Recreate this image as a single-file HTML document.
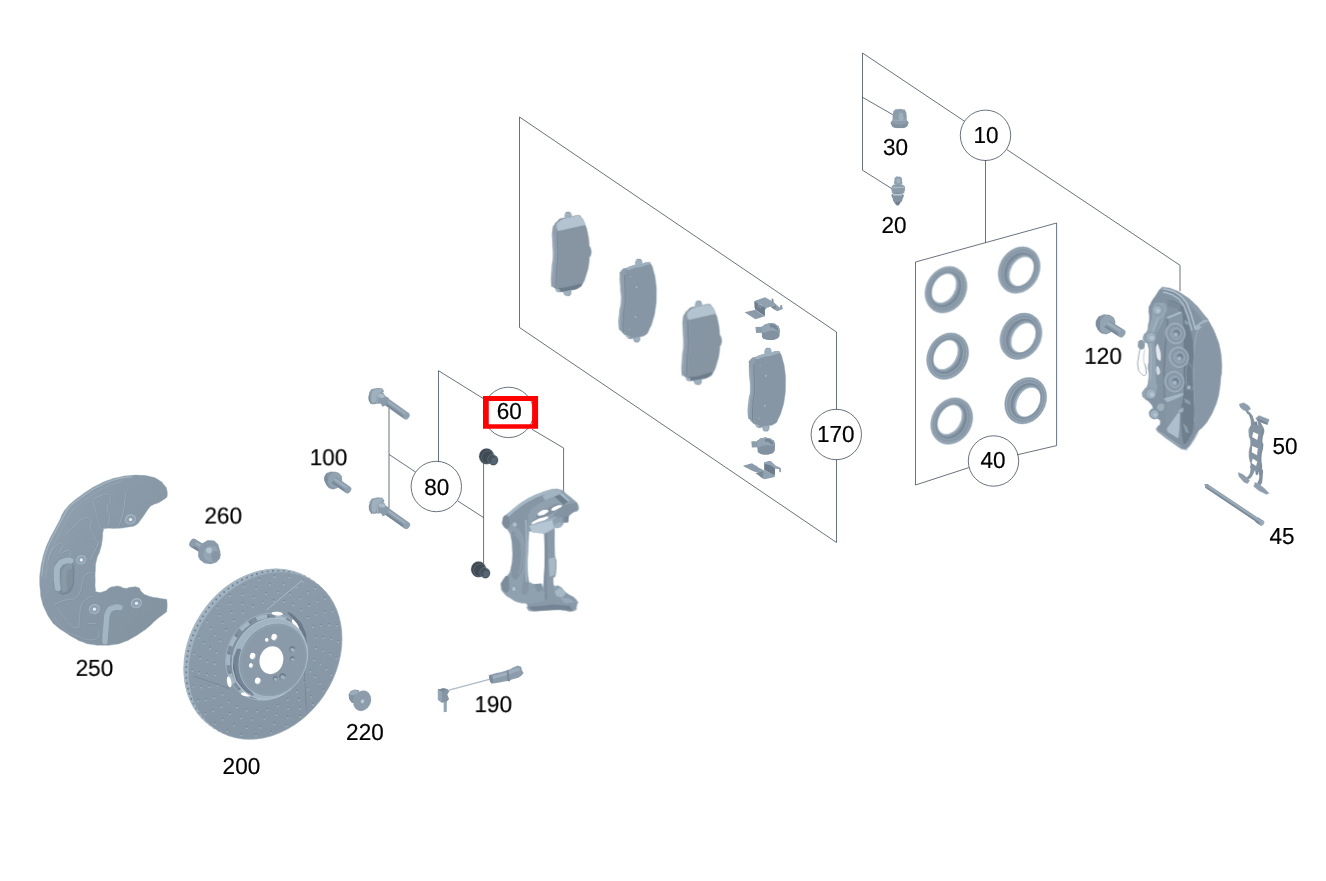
<!DOCTYPE html>
<html lang="en">
<head>
<meta charset="utf-8">
<title>Brake parts diagram</title>
<style>
html,body{margin:0;padding:0;background:#fff;}
body{width:1326px;height:881px;overflow:hidden;font-family:"Liberation Sans",Arial,sans-serif;}
svg{display:block;position:absolute;left:0;top:0;will-change:transform;opacity:0.999;}
.ln line,.ln path,.ln circle{fill:none;stroke:#2e3b4e;stroke-width:0.72;}
.lb text{font-family:"Liberation Sans",Arial,sans-serif;font-size:23.1px;fill:#000;stroke:#000;stroke-width:0.2px;text-anchor:middle;text-rendering:geometricPrecision;}
</style>
</head>
<body>
<svg width="1326" height="881" viewBox="0 0 1326 881">
<defs>
<filter id="soft" x="0" y="0" width="1326" height="881" filterUnits="userSpaceOnUse" color-interpolation-filters="sRGB">
<feGaussianBlur stdDeviation="0.3"/>
<feColorMatrix type="matrix" values="1 0 0 0 0  0 1.0096 0 0 -0.0096  0 0 1.0517 0 -0.0517  0 0 0 1 0"/>
</filter>
<linearGradient id="shg" x1="0" y1="0" x2="1" y2="1">
<stop offset="0" stop-color="#94a6b7"/><stop offset="0.35" stop-color="#8a9bac"/><stop offset="1" stop-color="#8393a4"/></linearGradient>
<linearGradient id="dface" x1="0" y1="0" x2="1" y2="1">
<stop offset="0" stop-color="#8d9eaf"/><stop offset="1" stop-color="#8696a7"/></linearGradient>

</defs>
<g class="ln">
<path d="M862.5 170.2 L862.5 53 L964.6 121.3"/>
<line x1="862.5" y1="97.3" x2="893" y2="114.8"/>
<line x1="862.5" y1="170.2" x2="892" y2="188.8"/>
<circle cx="985.5" cy="135.3" r="25.2"/>
<line x1="985.5" y1="160" x2="985.5" y2="242.5"/>
<path d="M1006.8 149.5 L1180 265.3 L1180 291"/>
<path d="M968.9 467.6 L915.5 485 L915.5 262 L1056.6 223 L1056.6 445.6 L1017.3 454.8"/>
<circle cx="993.5" cy="461" r="25.2"/>
<path d="M836.5 409.5 L836.5 332 L519.5 117 L519.5 327.5 L836.5 542.5 L836.5 459.5"/>
<circle cx="836.3" cy="434.5" r="25.2"/>
<path d="M438.5 461.5 L438.5 370.7 L483.5 398.7"/>
<circle cx="508.5" cy="412.4" r="25.2"/>
<path d="M532 429.3 L563.6 448 L563.6 492"/>
<circle cx="436.3" cy="486.5" r="25.2"/>
<line x1="389" y1="408" x2="389" y2="508.7"/>
<line x1="389" y1="454.4" x2="415.5" y2="472"/>
<line x1="457.7" y1="500.9" x2="483.6" y2="517.6"/>
<line x1="483.6" y1="462" x2="483.6" y2="563.5"/>
</g>
<g class="parts" filter="url(#soft)">
<!-- 10_shield -->
<g transform="translate(20 460) scale(0.22701)" ><path d="M528.6 67.4C558 68.7 545.2 65.8 572.6 72.7C600.1 79.6 590.3 75.6 611 88.1C631.7 100.6 622.7 95.4 634.8 110.1C646.8 124.8 642.8 114.5 647.1 132.2C651.4 149.8 647.5 163 647.5 163C647.5 163 637.3 173.3 616.3 185C595.3 196.8 600.4 189.4 584.5 198.2C568.7 207 580.1 198.2 568.7 211.4C557.2 224.7 562.7 220.2 550.2 237.9C537.7 255.5 544.6 248.1 531.2 264.3C517.9 280.5 527.7 276 510.1 286.3C492.5 296.6 504.5 290.3 478.4 295.1C452.2 300 465.6 298.5 431.7 300.9C397.8 303.2 398.4 298.2 376.6 302.2C354.9 306.1 371.2 296 366.5 312.8C361.8 329.5 366.9 324.5 362.5 352.4C358.1 380.3 361.7 367.1 353.3 396.5C344.9 425.8 344.5 411.1 337.4 440.5C330.4 469.9 334.2 455.2 332.1 484.6C330.1 513.9 331.1 500.7 331.3 528.6C331.4 556.5 329.3 550.6 332.6 568.2C335.8 585.9 327.9 578.1 340.9 581.5C354 584.8 354.3 584.2 371.8 578.4C389.3 572.5 379.3 570.7 393.4 563.8C407.5 556.9 400 560.3 414.1 557.7C428.2 555 419.5 553.6 435.7 555.9C451.8 558.3 444.8 563.3 462.5 564.7C480.3 566.2 469.6 561.2 489 560.3C508.3 559.4 504.8 555 520.7 562.1C536.5 569.1 522.3 569.6 536.5 581.5C550.8 593.4 538.6 588.8 563.4 597.8C588.2 606.7 583.5 603 611 608.3C638.4 613.6 645.8 613.6 645.8 613.6C645.8 613.6 648.4 620.1 648.4 638.7C648.4 657.4 645.8 669.6 645.8 669.6C645.8 669.6 623.9 684.2 599.1 704.8C574.3 725.4 592.2 713.6 571.3 731.2C550.5 748.9 562.2 740 536.5 757.7C510.8 775.3 520.8 769.4 494.2 784.1C467.7 798.8 483.4 792 456.8 801.7C430.2 811.4 444.9 808.5 414.5 813.2C384.1 817.9 397.5 815.8 365.6 815.8C333.8 815.8 348.7 817.9 318.9 813.2C289.1 808.5 302.8 811.4 276.2 801.7C249.6 792 265.8 798.8 239.2 784.1C212.6 769.4 223 775.3 196.5 757.7C169.9 740 179.7 748.9 159.5 731.2C139.2 713.6 151.7 728.3 135.7 704.8C119.7 681.3 124.8 690.1 111.4 660.8C98.1 631.4 102.9 646.1 95.6 616.7C88.2 587.3 92.4 602 89.4 572.6C86.5 543.3 86.5 558 86.8 528.6C87.1 499.2 86.5 513.9 90.3 484.6C94.1 455.2 91.5 469.9 98.2 440.5C105 411.1 100.4 425.8 110.6 396.5C120.7 367.1 115 381.8 128.6 352.4C142.3 323 136.1 337.7 151.5 308.4C166.9 279 163.1 287.8 174.9 264.3C186.6 240.8 176.6 255.5 186.8 237.9C196.9 220.2 190.4 229.1 205.3 211.4C220.1 193.8 211.1 202.6 231.3 185C251.4 167.4 241.7 176.2 265.6 158.6C289.6 141 277.7 148.3 303.1 132.2C328.5 116 312.2 124.8 341.8 110.1C371.5 95.4 359.2 99.8 392 88.1C424.9 76.4 409.7 81.3 440.5 74.9C471.3 68.4 455.2 71.2 484.6 68.7C513.9 66.2 499.2 66.1 528.6 67.4Z" fill="url(#shg)" stroke="#9aacbc" stroke-width="2"/><path d="M96.3 511.6C96.3 511.6 97.5 482.2 104.2 445.5C111 408.8 106.4 430.8 116.6 401.5C126.7 372.1 121 386.8 134.6 357.4C148.3 328 142.1 342.7 157.5 313.4C172.9 284 163 301.6 180.9 269.3C198.8 237 192.5 242.9 211.3 216.4C230.1 190 217.1 207.6 237.3 190C257.4 172.4 247.7 181.2 271.6 163.6C295.6 146 283.7 153.3 309.1 137.2C334.5 121 318.2 129.8 347.8 115.1C377.5 100.4 365.2 104.8 398 93.1C430.9 81.4 415.7 86.1 446.5 79.9C477.3 73.7 490.6 74.6 490.6 74.6" fill="none" stroke="#a9bccc" stroke-width="5" stroke-linecap="round" opacity="0.8"/><path d="M112.3 522.6C112.3 522.6 113.5 493.2 120.2 456.5C127 419.8 122.4 441.8 132.6 412.5C142.7 383.1 137 397.8 150.6 368.4C164.3 339 158.1 353.7 173.5 324.4C188.9 295 179 312.6 196.9 280.3C214.8 248 208.5 253.9 227.3 227.4C246.1 201 233.1 218.6 253.3 201C273.4 183.4 263.7 192.2 287.6 174.6C311.6 157 299.7 164.3 325.1 148.2C350.5 132 334.2 140.8 363.8 126.1C393.5 111.4 384.1 114.4 414 104.1C444 93.8 453.7 95.3 453.7 95.3" fill="none" stroke="#a3b5c5" stroke-width="2" opacity="0.8"/><rect x="150" y="432" width="88" height="160" rx="42" ry="44" fill="#8191a2" stroke="#788899" transform="rotate(4 194 512)"/><path d="M166 565C166 565 160 534.3 162 500C164 465.7 161 480 172 462C183 444 178.3 452 195 446C211.7 440 222 444 222 444" fill="none" stroke="#a9bccc" stroke-width="26" stroke-linecap="round" opacity="0.9"/><path d="M196 570C196 570 191.3 540.7 194 510C196.7 479.3 194.7 491.3 204 478C213.3 464.7 222 470 222 470" fill="none" stroke="#8a9aab" stroke-width="22" stroke-linecap="round"/><path d="M232 470C232 470 237.3 490 236 520C234.7 550 238.3 538.3 228 560C217.7 581.7 221 575.7 205 585C189 594.3 180 588 180 588" fill="none" stroke="#74859a" stroke-width="6" stroke-linecap="round" opacity="0.8"/><ellipse cx="487" cy="262" rx="22" ry="19.8" fill="#92a3b4" transform="rotate(-20 487 262)" stroke="#aabccc" stroke-width="5"/><ellipse cx="489" cy="266" rx="19.8" ry="17.6" fill="none" transform="rotate(-20 489 266)" stroke="#7b8b9d" stroke-width="2" opacity="0.6"/><ellipse cx="487" cy="262" rx="7" ry="7" fill="#e8eef3"/><ellipse cx="270" cy="440" rx="20" ry="18" fill="#92a3b4" transform="rotate(-20 270 440)" stroke="#aabccc" stroke-width="5"/><ellipse cx="272" cy="444" rx="18" ry="16" fill="none" transform="rotate(-20 272 444)" stroke="#7b8b9d" stroke-width="2" opacity="0.6"/><ellipse cx="270" cy="440" rx="7" ry="7" fill="#e8eef3"/><ellipse cx="328" cy="657" rx="22" ry="19.8" fill="#92a3b4" transform="rotate(-20 328 657)" stroke="#aabccc" stroke-width="5"/><ellipse cx="330" cy="661" rx="19.8" ry="17.6" fill="none" transform="rotate(-20 330 661)" stroke="#7b8b9d" stroke-width="2" opacity="0.6"/><ellipse cx="328" cy="657" rx="7" ry="7" fill="#e8eef3"/><ellipse cx="513" cy="631" rx="22" ry="19.8" fill="#92a3b4" transform="rotate(-20 513 631)" stroke="#aabccc" stroke-width="5"/><ellipse cx="515" cy="635" rx="19.8" ry="17.6" fill="none" transform="rotate(-20 515 635)" stroke="#7b8b9d" stroke-width="2" opacity="0.6"/><ellipse cx="513" cy="631" rx="7" ry="7" fill="#e8eef3"/><path d="M440 650C440 650 427.3 644.7 410 652C392.7 659.3 398 649.3 388 672C378 694.7 384.7 677.3 380 720C375.3 762.7 374 800 374 800" fill="none" stroke="#a6b9c9" stroke-width="24" stroke-linecap="round" opacity="0.9"/><path d="M452 668C452 668 438.7 666 424 674C409.3 682 415.3 673.3 408 692C400.7 710.7 406 692.3 402 730C398 767.7 396 805 396 805" fill="none" stroke="#8595a6" stroke-width="14" stroke-linecap="butt" opacity="0.7"/><path d="M325 175C325 175 330 167.7 350 160C370 152.3 368.3 147 385 152C401.7 157 400 154 400 175C400 196 386.7 188.3 385 215C383.3 241.7 395 228.3 395 255C395 281.7 385 295 385 295" fill="none" stroke="#a3b6c7" stroke-width="3" opacity="0.9"/><path d="M328 178C328 178 333 170.7 353 163C373 155.3 371.3 150 388 155C404.7 160 403 157 403 178C403 199 389.7 191.3 388 218C386.3 244.7 398 231.3 398 258C398 284.7 388 298 388 298" fill="none" stroke="#76879a" stroke-width="2.5" opacity="0.6"/><path d="M325 180C325 180 326.7 196.7 335 230C343.3 263.3 340 253.3 350 280C360 306.7 365 310 365 310" fill="none" stroke="#a3b6c7" stroke-width="3" opacity="0.9"/><path d="M328 183C328 183 329.7 199.7 338 233C346.3 266.3 343 256.3 353 283C363 309.7 368 313 368 313" fill="none" stroke="#76879a" stroke-width="2.5" opacity="0.6"/><path d="M465 140C465 140 466.7 158.3 460 200C453.3 241.7 455 232.3 445 265C435 297.7 430 298 430 298" fill="none" stroke="#a3b6c7" stroke-width="3" opacity="0.9"/><path d="M468 143C468 143 469.7 161.3 463 203C456.3 244.7 458 235.3 448 268C438 300.7 433 301 433 301" fill="none" stroke="#76879a" stroke-width="2.5" opacity="0.6"/><path d="M205 330C205 330 211.7 315 240 290C268.3 265 265 261.7 290 255C315 248.3 308.3 255 315 270C321.7 285 305 276.7 310 300C315 323.3 318.3 313.3 330 340C341.7 366.7 345 380 345 380" fill="none" stroke="#a3b6c7" stroke-width="3" opacity="0.9"/><path d="M208 333C208 333 214.7 318 243 293C271.3 268 268 264.7 293 258C318 251.3 311.3 258 318 273C324.7 288 308 279.7 313 303C318 326.3 321.3 316.3 333 343C344.7 369.7 348 383 348 383" fill="none" stroke="#76879a" stroke-width="2.5" opacity="0.6"/><path d="M125 440C125 440 128.3 406.7 150 385C171.7 363.3 181.7 366.7 190 375C198.3 383.3 166.7 401.7 175 410C183.3 418.3 200 395 215 400C230 405 220 425 220 425" fill="none" stroke="#a3b6c7" stroke-width="3" opacity="0.9"/><path d="M128 443C128 443 131.3 409.7 153 388C174.7 366.3 184.7 369.7 193 378C201.3 386.3 169.7 404.7 178 413C186.3 421.3 203 398 218 403C233 408 223 428 223 428" fill="none" stroke="#76879a" stroke-width="2.5" opacity="0.6"/><path d="M150 640C150 640 160 630 190 620C220 610 215 623.3 240 610C265 596.7 253.3 603.3 265 580C276.7 556.7 266.7 565 275 540C283.3 515 275 518.3 290 505C305 491.7 320 500 320 500" fill="none" stroke="#a3b6c7" stroke-width="3" opacity="0.9"/><path d="M153 643C153 643 163 633 193 623C223 613 218 626.3 243 613C268 599.7 256.3 606.3 268 583C279.7 559.7 269.7 568 278 543C286.3 518 278 521.3 293 508C308 494.7 323 503 323 503" fill="none" stroke="#76879a" stroke-width="2.5" opacity="0.6"/><path d="M170 650C170 650 173.3 670 200 700C226.7 730 229.3 740 250 740C270.7 740 256 730 262 700C268 670 260.3 676.7 268 650C275.7 623.3 267.7 636.7 285 620C302.3 603.3 320 600 320 600" fill="none" stroke="#a3b6c7" stroke-width="3" opacity="0.9"/><path d="M173 653C173 653 176.3 673 203 703C229.7 733 232.3 743 253 743C273.7 743 259 733 265 703C271 673 263.3 679.7 271 653C278.7 626.3 270.7 639.7 288 623C305.3 606.3 323 603 323 603" fill="none" stroke="#76879a" stroke-width="2.5" opacity="0.6"/><path d="M150 680C150 680 156.7 708.3 190 740C223.3 771.7 203.3 758.3 250 775C296.7 791.7 298.3 798.3 330 790C361.7 781.7 345 750 345 750" fill="none" stroke="#a3b6c7" stroke-width="3" opacity="0.9"/><path d="M153 683C153 683 159.7 711.3 193 743C226.3 774.7 206.3 761.3 253 778C299.7 794.7 301.3 801.3 333 793C364.7 784.7 348 753 348 753" fill="none" stroke="#76879a" stroke-width="2.5" opacity="0.6"/><path d="M312 440C312 440 317.3 427.3 330 400C342.7 372.7 350 358 350 358" fill="none" stroke="#a3b6c7" stroke-width="3" opacity="0.9"/><path d="M315 443C315 443 320.3 430.3 333 403C345.7 375.7 353 361 353 361" fill="none" stroke="#76879a" stroke-width="2.5" opacity="0.6"/><path d="M300 720L335 722" fill="none" stroke="#a3b6c7" stroke-width="3" opacity="0.9"/><path d="M303 723L338 725" fill="none" stroke="#76879a" stroke-width="2.5" opacity="0.6"/></g>
<!-- 20_disc -->
<g transform="translate(165 555) scale(0.21566)" ><ellipse cx="443.2" cy="452.4" rx="329.1" ry="411.5" fill="#a1b3c4" transform="rotate(33.6 443.2 452.4)"/><ellipse cx="453.5" cy="459.2" rx="328.1" ry="410.5" fill="none" transform="rotate(33.6 453.5 459.2)" stroke="#5f7084" stroke-width="8" stroke-dasharray="8 17" opacity="0.75"/><ellipse cx="443.2" cy="452.4" rx="328.1" ry="410.5" fill="none" transform="rotate(33.6 443.2 452.4)" stroke="#a9bbcb" stroke-width="5"/><ellipse cx="464.5" cy="466.5" rx="329.1" ry="411.5" fill="url(#dface)" transform="rotate(33.6 464.5 466.5)" stroke="#9cafc0" stroke-width="3"/><g opacity="0.5"><ellipse cx="645.5" cy="583.6" rx="4.2" ry="3.2" fill="#5f7084"/><ellipse cx="646.0" cy="590.6" rx="4.4" ry="4" fill="#b4c9d2"/><ellipse cx="662.9" cy="616.1" rx="4.2" ry="3.2" fill="#5f7084"/><ellipse cx="663.4" cy="623.1" rx="4.4" ry="4" fill="#b4c9d2"/><ellipse cx="677.1" cy="651.9" rx="4.2" ry="3.2" fill="#5f7084"/><ellipse cx="677.6" cy="658.9" rx="4.4" ry="4" fill="#b4c9d2"/><ellipse cx="685.3" cy="688.2" rx="4.2" ry="3.2" fill="#5f7084"/><ellipse cx="685.8" cy="695.2" rx="4.4" ry="4" fill="#b4c9d2"/><ellipse cx="610.3" cy="628.0" rx="4.2" ry="3.2" fill="#5f7084"/><ellipse cx="610.8" cy="635.0" rx="4.4" ry="4" fill="#b4c9d2"/><ellipse cx="620.3" cy="665.3" rx="4.2" ry="3.2" fill="#5f7084"/><ellipse cx="620.8" cy="672.3" rx="4.4" ry="4" fill="#b4c9d2"/><ellipse cx="626.5" cy="705.0" rx="4.2" ry="3.2" fill="#5f7084"/><ellipse cx="627.0" cy="712.0" rx="4.4" ry="4" fill="#b4c9d2"/><ellipse cx="627.2" cy="744.1" rx="4.2" ry="3.2" fill="#5f7084"/><ellipse cx="627.7" cy="751.1" rx="4.4" ry="4" fill="#b4c9d2"/><ellipse cx="568.8" cy="665.2" rx="4.2" ry="3.2" fill="#5f7084"/><ellipse cx="569.3" cy="672.2" rx="4.4" ry="4" fill="#b4c9d2"/><ellipse cx="570.8" cy="705.6" rx="4.2" ry="3.2" fill="#5f7084"/><ellipse cx="571.3" cy="712.6" rx="4.4" ry="4" fill="#b4c9d2"/><ellipse cx="568.9" cy="747.7" rx="4.2" ry="3.2" fill="#5f7084"/><ellipse cx="569.4" cy="754.7" rx="4.4" ry="4" fill="#b4c9d2"/><ellipse cx="561.9" cy="787.7" rx="4.2" ry="3.2" fill="#5f7084"/><ellipse cx="562.4" cy="794.7" rx="4.4" ry="4" fill="#b4c9d2"/><ellipse cx="522.7" cy="693.7" rx="4.2" ry="3.2" fill="#5f7084"/><ellipse cx="523.2" cy="700.7" rx="4.4" ry="4" fill="#b4c9d2"/><ellipse cx="516.7" cy="735.4" rx="4.2" ry="3.2" fill="#5f7084"/><ellipse cx="517.2" cy="742.4" rx="4.4" ry="4" fill="#b4c9d2"/><ellipse cx="506.7" cy="777.9" rx="4.2" ry="3.2" fill="#5f7084"/><ellipse cx="507.2" cy="784.9" rx="4.4" ry="4" fill="#b4c9d2"/><ellipse cx="492.4" cy="817.2" rx="4.2" ry="3.2" fill="#5f7084"/><ellipse cx="492.9" cy="824.2" rx="4.4" ry="4" fill="#b4c9d2"/><ellipse cx="474.0" cy="712.0" rx="4.2" ry="3.2" fill="#5f7084"/><ellipse cx="474.5" cy="719.0" rx="4.4" ry="4" fill="#b4c9d2"/><ellipse cx="460.4" cy="753.2" rx="4.2" ry="3.2" fill="#5f7084"/><ellipse cx="460.9" cy="760.2" rx="4.4" ry="4" fill="#b4c9d2"/><ellipse cx="442.7" cy="794.4" rx="4.2" ry="3.2" fill="#5f7084"/><ellipse cx="443.2" cy="801.4" rx="4.4" ry="4" fill="#b4c9d2"/><ellipse cx="421.6" cy="831.2" rx="4.2" ry="3.2" fill="#5f7084"/><ellipse cx="422.1" cy="838.2" rx="4.4" ry="4" fill="#b4c9d2"/><ellipse cx="425.0" cy="719.5" rx="4.2" ry="3.2" fill="#5f7084"/><ellipse cx="425.5" cy="726.5" rx="4.4" ry="4" fill="#b4c9d2"/><ellipse cx="404.2" cy="758.5" rx="4.2" ry="3.2" fill="#5f7084"/><ellipse cx="404.7" cy="765.5" rx="4.4" ry="4" fill="#b4c9d2"/><ellipse cx="379.6" cy="796.4" rx="4.2" ry="3.2" fill="#5f7084"/><ellipse cx="380.1" cy="803.4" rx="4.4" ry="4" fill="#b4c9d2"/><ellipse cx="352.8" cy="829.1" rx="4.2" ry="3.2" fill="#5f7084"/><ellipse cx="353.3" cy="836.1" rx="4.4" ry="4" fill="#b4c9d2"/><ellipse cx="377.6" cy="715.8" rx="4.2" ry="3.2" fill="#5f7084"/><ellipse cx="378.1" cy="722.8" rx="4.4" ry="4" fill="#b4c9d2"/><ellipse cx="350.6" cy="750.8" rx="4.2" ry="3.2" fill="#5f7084"/><ellipse cx="351.1" cy="757.8" rx="4.4" ry="4" fill="#b4c9d2"/><ellipse cx="320.3" cy="783.8" rx="4.2" ry="3.2" fill="#5f7084"/><ellipse cx="320.8" cy="790.8" rx="4.4" ry="4" fill="#b4c9d2"/><ellipse cx="288.8" cy="811.0" rx="4.2" ry="3.2" fill="#5f7084"/><ellipse cx="289.3" cy="818.0" rx="4.4" ry="4" fill="#b4c9d2"/><ellipse cx="334.1" cy="701.1" rx="4.2" ry="3.2" fill="#5f7084"/><ellipse cx="334.6" cy="708.1" rx="4.4" ry="4" fill="#b4c9d2"/><ellipse cx="302.0" cy="730.6" rx="4.2" ry="3.2" fill="#5f7084"/><ellipse cx="302.5" cy="737.6" rx="4.4" ry="4" fill="#b4c9d2"/><ellipse cx="267.2" cy="757.3" rx="4.2" ry="3.2" fill="#5f7084"/><ellipse cx="267.7" cy="764.3" rx="4.4" ry="4" fill="#b4c9d2"/><ellipse cx="232.5" cy="777.8" rx="4.2" ry="3.2" fill="#5f7084"/><ellipse cx="233.0" cy="784.8" rx="4.4" ry="4" fill="#b4c9d2"/><ellipse cx="296.3" cy="676.0" rx="4.2" ry="3.2" fill="#5f7084"/><ellipse cx="296.8" cy="683.0" rx="4.4" ry="4" fill="#b4c9d2"/><ellipse cx="260.5" cy="698.6" rx="4.2" ry="3.2" fill="#5f7084"/><ellipse cx="261.0" cy="705.6" rx="4.4" ry="4" fill="#b4c9d2"/><ellipse cx="222.8" cy="717.9" rx="4.2" ry="3.2" fill="#5f7084"/><ellipse cx="223.3" cy="724.9" rx="4.4" ry="4" fill="#b4c9d2"/><ellipse cx="186.3" cy="730.8" rx="4.2" ry="3.2" fill="#5f7084"/><ellipse cx="186.8" cy="737.8" rx="4.4" ry="4" fill="#b4c9d2"/><ellipse cx="265.8" cy="641.6" rx="4.2" ry="3.2" fill="#5f7084"/><ellipse cx="266.3" cy="648.6" rx="4.4" ry="4" fill="#b4c9d2"/><ellipse cx="227.9" cy="656.5" rx="4.2" ry="3.2" fill="#5f7084"/><ellipse cx="228.4" cy="663.5" rx="4.4" ry="4" fill="#b4c9d2"/><ellipse cx="188.9" cy="667.4" rx="4.2" ry="3.2" fill="#5f7084"/><ellipse cx="189.4" cy="674.4" rx="4.4" ry="4" fill="#b4c9d2"/><ellipse cx="152.3" cy="672.1" rx="4.2" ry="3.2" fill="#5f7084"/><ellipse cx="152.8" cy="679.1" rx="4.4" ry="4" fill="#b4c9d2"/><ellipse cx="244.0" cy="599.5" rx="4.2" ry="3.2" fill="#5f7084"/><ellipse cx="244.5" cy="606.5" rx="4.4" ry="4" fill="#b4c9d2"/><ellipse cx="205.7" cy="605.9" rx="4.2" ry="3.2" fill="#5f7084"/><ellipse cx="206.2" cy="612.9" rx="4.4" ry="4" fill="#b4c9d2"/><ellipse cx="167.1" cy="608.0" rx="4.2" ry="3.2" fill="#5f7084"/><ellipse cx="167.6" cy="615.0" rx="4.4" ry="4" fill="#b4c9d2"/><ellipse cx="131.9" cy="604.3" rx="4.2" ry="3.2" fill="#5f7084"/><ellipse cx="132.4" cy="611.3" rx="4.4" ry="4" fill="#b4c9d2"/><ellipse cx="231.8" cy="551.3" rx="4.2" ry="3.2" fill="#5f7084"/><ellipse cx="232.3" cy="558.3" rx="4.4" ry="4" fill="#b4c9d2"/><ellipse cx="194.8" cy="549.0" rx="4.2" ry="3.2" fill="#5f7084"/><ellipse cx="195.3" cy="556.0" rx="4.4" ry="4" fill="#b4c9d2"/><ellipse cx="158.2" cy="542.3" rx="4.2" ry="3.2" fill="#5f7084"/><ellipse cx="158.7" cy="549.3" rx="4.4" ry="4" fill="#b4c9d2"/><ellipse cx="126.1" cy="530.4" rx="4.2" ry="3.2" fill="#5f7084"/><ellipse cx="126.6" cy="537.4" rx="4.4" ry="4" fill="#b4c9d2"/><ellipse cx="229.8" cy="499.4" rx="4.2" ry="3.2" fill="#5f7084"/><ellipse cx="230.3" cy="506.4" rx="4.4" ry="4" fill="#b4c9d2"/><ellipse cx="195.7" cy="488.5" rx="4.2" ry="3.2" fill="#5f7084"/><ellipse cx="196.2" cy="495.5" rx="4.4" ry="4" fill="#b4c9d2"/><ellipse cx="162.8" cy="473.1" rx="4.2" ry="3.2" fill="#5f7084"/><ellipse cx="163.3" cy="480.1" rx="4.4" ry="4" fill="#b4c9d2"/><ellipse cx="135.1" cy="453.5" rx="4.2" ry="3.2" fill="#5f7084"/><ellipse cx="135.6" cy="460.5" rx="4.4" ry="4" fill="#b4c9d2"/><ellipse cx="238.1" cy="445.9" rx="4.2" ry="3.2" fill="#5f7084"/><ellipse cx="238.6" cy="452.9" rx="4.4" ry="4" fill="#b4c9d2"/><ellipse cx="208.3" cy="426.8" rx="4.2" ry="3.2" fill="#5f7084"/><ellipse cx="208.8" cy="433.8" rx="4.4" ry="4" fill="#b4c9d2"/><ellipse cx="180.5" cy="403.5" rx="4.2" ry="3.2" fill="#5f7084"/><ellipse cx="181.0" cy="410.5" rx="4.4" ry="4" fill="#b4c9d2"/><ellipse cx="158.4" cy="377.1" rx="4.2" ry="3.2" fill="#5f7084"/><ellipse cx="158.9" cy="384.1" rx="4.4" ry="4" fill="#b4c9d2"/><ellipse cx="256.2" cy="393.1" rx="4.2" ry="3.2" fill="#5f7084"/><ellipse cx="256.7" cy="400.1" rx="4.4" ry="4" fill="#b4c9d2"/><ellipse cx="232.1" cy="366.7" rx="4.2" ry="3.2" fill="#5f7084"/><ellipse cx="232.6" cy="373.7" rx="4.4" ry="4" fill="#b4c9d2"/><ellipse cx="210.7" cy="336.6" rx="4.2" ry="3.2" fill="#5f7084"/><ellipse cx="211.2" cy="343.6" rx="4.4" ry="4" fill="#b4c9d2"/><ellipse cx="195.1" cy="304.5" rx="4.2" ry="3.2" fill="#5f7084"/><ellipse cx="195.6" cy="311.5" rx="4.4" ry="4" fill="#b4c9d2"/><ellipse cx="283.5" cy="343.4" rx="4.2" ry="3.2" fill="#5f7084"/><ellipse cx="284.0" cy="350.4" rx="4.4" ry="4" fill="#b4c9d2"/><ellipse cx="266.1" cy="310.9" rx="4.2" ry="3.2" fill="#5f7084"/><ellipse cx="266.6" cy="317.9" rx="4.4" ry="4" fill="#b4c9d2"/><ellipse cx="251.9" cy="275.1" rx="4.2" ry="3.2" fill="#5f7084"/><ellipse cx="252.4" cy="282.1" rx="4.4" ry="4" fill="#b4c9d2"/><ellipse cx="243.7" cy="238.8" rx="4.2" ry="3.2" fill="#5f7084"/><ellipse cx="244.2" cy="245.8" rx="4.4" ry="4" fill="#b4c9d2"/><ellipse cx="318.7" cy="299.0" rx="4.2" ry="3.2" fill="#5f7084"/><ellipse cx="319.2" cy="306.0" rx="4.4" ry="4" fill="#b4c9d2"/><ellipse cx="308.7" cy="261.7" rx="4.2" ry="3.2" fill="#5f7084"/><ellipse cx="309.2" cy="268.7" rx="4.4" ry="4" fill="#b4c9d2"/><ellipse cx="302.5" cy="222.0" rx="4.2" ry="3.2" fill="#5f7084"/><ellipse cx="303.0" cy="229.0" rx="4.4" ry="4" fill="#b4c9d2"/><ellipse cx="301.8" cy="182.9" rx="4.2" ry="3.2" fill="#5f7084"/><ellipse cx="302.3" cy="189.9" rx="4.4" ry="4" fill="#b4c9d2"/><ellipse cx="360.2" cy="261.8" rx="4.2" ry="3.2" fill="#5f7084"/><ellipse cx="360.7" cy="268.8" rx="4.4" ry="4" fill="#b4c9d2"/><ellipse cx="358.2" cy="221.4" rx="4.2" ry="3.2" fill="#5f7084"/><ellipse cx="358.7" cy="228.4" rx="4.4" ry="4" fill="#b4c9d2"/><ellipse cx="360.1" cy="179.3" rx="4.2" ry="3.2" fill="#5f7084"/><ellipse cx="360.6" cy="186.3" rx="4.4" ry="4" fill="#b4c9d2"/><ellipse cx="367.1" cy="139.3" rx="4.2" ry="3.2" fill="#5f7084"/><ellipse cx="367.6" cy="146.3" rx="4.4" ry="4" fill="#b4c9d2"/><ellipse cx="406.3" cy="233.3" rx="4.2" ry="3.2" fill="#5f7084"/><ellipse cx="406.8" cy="240.3" rx="4.4" ry="4" fill="#b4c9d2"/><ellipse cx="412.3" cy="191.6" rx="4.2" ry="3.2" fill="#5f7084"/><ellipse cx="412.8" cy="198.6" rx="4.4" ry="4" fill="#b4c9d2"/><ellipse cx="422.3" cy="149.1" rx="4.2" ry="3.2" fill="#5f7084"/><ellipse cx="422.8" cy="156.1" rx="4.4" ry="4" fill="#b4c9d2"/><ellipse cx="436.6" cy="109.8" rx="4.2" ry="3.2" fill="#5f7084"/><ellipse cx="437.1" cy="116.8" rx="4.4" ry="4" fill="#b4c9d2"/><ellipse cx="455.0" cy="215.0" rx="4.2" ry="3.2" fill="#5f7084"/><ellipse cx="455.5" cy="222.0" rx="4.4" ry="4" fill="#b4c9d2"/><ellipse cx="468.6" cy="173.8" rx="4.2" ry="3.2" fill="#5f7084"/><ellipse cx="469.1" cy="180.8" rx="4.4" ry="4" fill="#b4c9d2"/><ellipse cx="486.3" cy="132.6" rx="4.2" ry="3.2" fill="#5f7084"/><ellipse cx="486.8" cy="139.6" rx="4.4" ry="4" fill="#b4c9d2"/><ellipse cx="507.4" cy="95.8" rx="4.2" ry="3.2" fill="#5f7084"/><ellipse cx="507.9" cy="102.8" rx="4.4" ry="4" fill="#b4c9d2"/><ellipse cx="504.0" cy="207.5" rx="4.2" ry="3.2" fill="#5f7084"/><ellipse cx="504.5" cy="214.5" rx="4.4" ry="4" fill="#b4c9d2"/><ellipse cx="524.8" cy="168.5" rx="4.2" ry="3.2" fill="#5f7084"/><ellipse cx="525.3" cy="175.5" rx="4.4" ry="4" fill="#b4c9d2"/><ellipse cx="549.4" cy="130.6" rx="4.2" ry="3.2" fill="#5f7084"/><ellipse cx="549.9" cy="137.6" rx="4.4" ry="4" fill="#b4c9d2"/><ellipse cx="576.2" cy="97.9" rx="4.2" ry="3.2" fill="#5f7084"/><ellipse cx="576.7" cy="104.9" rx="4.4" ry="4" fill="#b4c9d2"/><ellipse cx="551.4" cy="211.2" rx="4.2" ry="3.2" fill="#5f7084"/><ellipse cx="551.9" cy="218.2" rx="4.4" ry="4" fill="#b4c9d2"/><ellipse cx="578.4" cy="176.2" rx="4.2" ry="3.2" fill="#5f7084"/><ellipse cx="578.9" cy="183.2" rx="4.4" ry="4" fill="#b4c9d2"/><ellipse cx="608.7" cy="143.2" rx="4.2" ry="3.2" fill="#5f7084"/><ellipse cx="609.2" cy="150.2" rx="4.4" ry="4" fill="#b4c9d2"/><ellipse cx="640.2" cy="116.0" rx="4.2" ry="3.2" fill="#5f7084"/><ellipse cx="640.7" cy="123.0" rx="4.4" ry="4" fill="#b4c9d2"/><ellipse cx="594.9" cy="225.9" rx="4.2" ry="3.2" fill="#5f7084"/><ellipse cx="595.4" cy="232.9" rx="4.4" ry="4" fill="#b4c9d2"/><ellipse cx="627.0" cy="196.4" rx="4.2" ry="3.2" fill="#5f7084"/><ellipse cx="627.5" cy="203.4" rx="4.4" ry="4" fill="#b4c9d2"/><ellipse cx="661.8" cy="169.7" rx="4.2" ry="3.2" fill="#5f7084"/><ellipse cx="662.3" cy="176.7" rx="4.4" ry="4" fill="#b4c9d2"/><ellipse cx="696.5" cy="149.2" rx="4.2" ry="3.2" fill="#5f7084"/><ellipse cx="697.0" cy="156.2" rx="4.4" ry="4" fill="#b4c9d2"/><ellipse cx="632.7" cy="251.0" rx="4.2" ry="3.2" fill="#5f7084"/><ellipse cx="633.2" cy="258.0" rx="4.4" ry="4" fill="#b4c9d2"/><ellipse cx="668.5" cy="228.4" rx="4.2" ry="3.2" fill="#5f7084"/><ellipse cx="669.0" cy="235.4" rx="4.4" ry="4" fill="#b4c9d2"/><ellipse cx="706.2" cy="209.1" rx="4.2" ry="3.2" fill="#5f7084"/><ellipse cx="706.7" cy="216.1" rx="4.4" ry="4" fill="#b4c9d2"/><ellipse cx="742.7" cy="196.2" rx="4.2" ry="3.2" fill="#5f7084"/><ellipse cx="743.2" cy="203.2" rx="4.4" ry="4" fill="#b4c9d2"/><ellipse cx="663.2" cy="285.4" rx="4.2" ry="3.2" fill="#5f7084"/><ellipse cx="663.7" cy="292.4" rx="4.4" ry="4" fill="#b4c9d2"/><ellipse cx="701.1" cy="270.5" rx="4.2" ry="3.2" fill="#5f7084"/><ellipse cx="701.6" cy="277.5" rx="4.4" ry="4" fill="#b4c9d2"/><ellipse cx="740.1" cy="259.6" rx="4.2" ry="3.2" fill="#5f7084"/><ellipse cx="740.6" cy="266.6" rx="4.4" ry="4" fill="#b4c9d2"/><ellipse cx="776.7" cy="254.9" rx="4.2" ry="3.2" fill="#5f7084"/><ellipse cx="777.2" cy="261.9" rx="4.4" ry="4" fill="#b4c9d2"/><ellipse cx="685.0" cy="327.5" rx="4.2" ry="3.2" fill="#5f7084"/><ellipse cx="685.5" cy="334.5" rx="4.4" ry="4" fill="#b4c9d2"/><ellipse cx="723.3" cy="321.1" rx="4.2" ry="3.2" fill="#5f7084"/><ellipse cx="723.8" cy="328.1" rx="4.4" ry="4" fill="#b4c9d2"/><ellipse cx="761.9" cy="319.0" rx="4.2" ry="3.2" fill="#5f7084"/><ellipse cx="762.4" cy="326.0" rx="4.4" ry="4" fill="#b4c9d2"/><ellipse cx="797.1" cy="322.7" rx="4.2" ry="3.2" fill="#5f7084"/><ellipse cx="797.6" cy="329.7" rx="4.4" ry="4" fill="#b4c9d2"/><ellipse cx="697.2" cy="375.7" rx="4.2" ry="3.2" fill="#5f7084"/><ellipse cx="697.7" cy="382.7" rx="4.4" ry="4" fill="#b4c9d2"/><ellipse cx="734.2" cy="378.0" rx="4.2" ry="3.2" fill="#5f7084"/><ellipse cx="734.7" cy="385.0" rx="4.4" ry="4" fill="#b4c9d2"/><ellipse cx="770.8" cy="384.7" rx="4.2" ry="3.2" fill="#5f7084"/><ellipse cx="771.3" cy="391.7" rx="4.4" ry="4" fill="#b4c9d2"/><ellipse cx="802.9" cy="396.6" rx="4.2" ry="3.2" fill="#5f7084"/><ellipse cx="803.4" cy="403.6" rx="4.4" ry="4" fill="#b4c9d2"/><ellipse cx="699.2" cy="427.6" rx="4.2" ry="3.2" fill="#5f7084"/><ellipse cx="699.7" cy="434.6" rx="4.4" ry="4" fill="#b4c9d2"/><ellipse cx="733.3" cy="438.5" rx="4.2" ry="3.2" fill="#5f7084"/><ellipse cx="733.8" cy="445.5" rx="4.4" ry="4" fill="#b4c9d2"/><ellipse cx="766.2" cy="453.9" rx="4.2" ry="3.2" fill="#5f7084"/><ellipse cx="766.7" cy="460.9" rx="4.4" ry="4" fill="#b4c9d2"/><ellipse cx="793.9" cy="473.5" rx="4.2" ry="3.2" fill="#5f7084"/><ellipse cx="794.4" cy="480.5" rx="4.4" ry="4" fill="#b4c9d2"/><ellipse cx="690.9" cy="481.1" rx="4.2" ry="3.2" fill="#5f7084"/><ellipse cx="691.4" cy="488.1" rx="4.4" ry="4" fill="#b4c9d2"/><ellipse cx="720.7" cy="500.2" rx="4.2" ry="3.2" fill="#5f7084"/><ellipse cx="721.2" cy="507.2" rx="4.4" ry="4" fill="#b4c9d2"/><ellipse cx="748.5" cy="523.5" rx="4.2" ry="3.2" fill="#5f7084"/><ellipse cx="749.0" cy="530.5" rx="4.4" ry="4" fill="#b4c9d2"/><ellipse cx="770.6" cy="549.9" rx="4.2" ry="3.2" fill="#5f7084"/><ellipse cx="771.1" cy="556.9" rx="4.4" ry="4" fill="#b4c9d2"/><ellipse cx="672.8" cy="533.9" rx="4.2" ry="3.2" fill="#5f7084"/><ellipse cx="673.3" cy="540.9" rx="4.4" ry="4" fill="#b4c9d2"/><ellipse cx="696.9" cy="560.3" rx="4.2" ry="3.2" fill="#5f7084"/><ellipse cx="697.4" cy="567.3" rx="4.4" ry="4" fill="#b4c9d2"/><ellipse cx="718.3" cy="590.4" rx="4.2" ry="3.2" fill="#5f7084"/><ellipse cx="718.8" cy="597.4" rx="4.4" ry="4" fill="#b4c9d2"/><ellipse cx="733.9" cy="622.5" rx="4.2" ry="3.2" fill="#5f7084"/><ellipse cx="734.4" cy="629.5" rx="4.4" ry="4" fill="#b4c9d2"/></g><path d="M470 256 L640 114" stroke="#adbfce" stroke-width="4" fill="none"/><path d="M134 562 L300 620" stroke="#74859a" stroke-width="3.5" fill="none"/><path d="M645 520 L656 722" stroke="#74859a" stroke-width="3.5" fill="none"/></g><g transform="translate(215 600) scale(0.11351)" ><ellipse cx="455" cy="500" rx="350" ry="395" fill="#7f90a3" transform="rotate(30 455 500)"/><ellipse cx="455" cy="500" rx="350" ry="395" fill="none" transform="rotate(30 455 500)" stroke="#a3b5c5" stroke-width="7"/><ellipse cx="452" cy="502" rx="325" ry="372" fill="none" transform="rotate(30 452 502)" stroke="#a9bbcb" stroke-width="36" stroke-dasharray="95 75" opacity="0.9"/><ellipse cx="452" cy="502" rx="322" ry="368" fill="none" transform="rotate(30 452 502)" stroke="#66778b" stroke-width="10" stroke-dasharray="20 150" stroke-dashoffset="-85" opacity="0.8"/><ellipse cx="548" cy="120" rx="50" ry="17" fill="#ffffff" transform="rotate(3 548 120)"/><ellipse cx="708" cy="212" rx="18" ry="48" fill="#ffffff" transform="rotate(-32 708 212)"/><ellipse cx="125" cy="722" rx="19" ry="48" fill="#ffffff" transform="rotate(-12 125 722)"/><ellipse cx="278" cy="832" rx="50" ry="17" fill="#ffffff" transform="rotate(8 278 832)"/><path d="M640 108C650 104.7 672.7 112.7 720 160C767.3 207.3 753.3 186.7 782 250C810.7 313.3 800 293.3 806 350C812 406.7 808.7 426.7 800 420C791.3 413.3 800 390 780 330C760 270 770 293.3 740 240C710 186.7 723.3 214 690 170C656.7 126 630 111.3 640 108Z" fill="#6a7b8f"/><ellipse cx="482" cy="517" rx="318" ry="370" fill="#a2b4c5" transform="rotate(30 482 517)" stroke="#b7c8d6" stroke-width="6"/><path d="M178 470C161.3 513.3 162 500 160 560C158 620 153.7 590 172 650C190.3 710 175.7 685 215 740C254.3 795 248.3 781.7 290 815C331.7 848.3 333.3 848.3 340 840C346.7 831.7 336 833.3 310 790C284 746.7 288 763.3 262 710C236 656.7 244 686.7 232 630C220 573.3 224.7 593.3 226 540C227.3 486.7 241.3 506.7 236 470C230.7 433.3 229.3 430 210 430C190.7 430 194.7 426.7 178 470Z" fill="#75869a"/><path d="M165 560C165 560 160 596.7 180 660C200 723.3 185 696.7 225 750C265 803.3 300 820 300 820" fill="none" stroke="#5f7084" stroke-width="8"/><ellipse cx="512" cy="528" rx="290" ry="336" fill="#8a9bad" transform="rotate(30 512 528)" stroke="#b0c2d0" stroke-width="6"/><ellipse cx="516" cy="530" rx="276" ry="322" fill="none" transform="rotate(30 516 530)" stroke="#94a6b7" stroke-width="5"/><ellipse cx="497" cy="530" rx="104" ry="124" fill="#ffffff" transform="rotate(14 497 530)"/><ellipse cx="525" cy="331" rx="26" ry="30" fill="#a6b8c8" transform="rotate(20 525 331)"/><ellipse cx="520" cy="325" rx="22.9" ry="26.4" fill="#ffffff" transform="rotate(20 520 325)"/><ellipse cx="460" cy="356" rx="16" ry="18" fill="#a6b8c8" transform="rotate(20 460 356)"/><ellipse cx="455" cy="350" rx="14.1" ry="15.8" fill="#ffffff" transform="rotate(20 455 350)"/><ellipse cx="335" cy="498" rx="26" ry="30" fill="#a6b8c8" transform="rotate(20 335 498)"/><ellipse cx="330" cy="492" rx="22.9" ry="26.4" fill="#ffffff" transform="rotate(20 330 492)"/><ellipse cx="320" cy="581" rx="18" ry="22" fill="#a6b8c8" transform="rotate(20 320 581)"/><ellipse cx="315" cy="575" rx="15.8" ry="19.4" fill="#ffffff" transform="rotate(20 315 575)"/><ellipse cx="380" cy="716" rx="27" ry="30" fill="#a6b8c8" transform="rotate(20 380 716)"/><ellipse cx="375" cy="710" rx="23.8" ry="26.4" fill="#ffffff" transform="rotate(20 375 710)"/><ellipse cx="680" cy="432" rx="27" ry="27" fill="#6f8094" transform="rotate(20 680 432)"/><ellipse cx="684" cy="441" rx="21.6" ry="16.2" fill="#9fb1c2" transform="rotate(20 684 441)"/><ellipse cx="680" cy="515" rx="21" ry="21" fill="#6f8094" transform="rotate(20 680 515)"/><ellipse cx="684" cy="524" rx="16.8" ry="12.6" fill="#9fb1c2" transform="rotate(20 684 524)"/><ellipse cx="595" cy="672" rx="29" ry="29" fill="#6f8094" transform="rotate(20 595 672)"/><ellipse cx="599" cy="681" rx="23.2" ry="17.4" fill="#9fb1c2" transform="rotate(20 599 681)"/><ellipse cx="530" cy="690" rx="21" ry="23" fill="#6f8094" transform="rotate(20 530 690)"/><ellipse cx="534" cy="699" rx="16.8" ry="13.8" fill="#9fb1c2" transform="rotate(20 534 699)"/></g>
<!-- 30_caliper -->
<g transform="translate(1130 280) scale(0.11351)" ><path d="M270 75C296.7 53.3 266.7 60 310 65C353.3 70 346.7 68.3 400 90C453.3 111.7 416.7 93.3 470 130C523.3 166.7 503.3 146.7 560 200C616.7 253.3 590 226.7 640 290C690 353.3 670 320 710 390C750 460 733.3 430 760 500C786.7 570 775 533.3 790 600C805 666.7 799 633.3 805 700C811 766.7 809.7 746.7 808 800C806.3 853.3 806 808.3 800 860C794 911.7 800 890 790 955C780 1020 786.7 995 770 1055C753.3 1115 763.3 1081.7 740 1135C716.7 1188.3 730 1165 700 1215C670 1265 683.3 1245 650 1285C616.7 1325 630 1295 600 1335C570 1375 590 1358.3 560 1405C530 1451.7 540 1446.7 510 1475C480 1503.3 500 1493.3 470 1490C440 1486.7 460 1490 420 1465C380 1440 396.7 1448.3 350 1415C303.3 1381.7 318.3 1395 280 1365C241.7 1335 248.3 1348.3 235 1325C221.7 1301.7 230 1315 240 1295C250 1275 261.7 1288.3 265 1265C268.3 1241.7 271.7 1240 250 1225C228.3 1210 226.7 1233.3 200 1220C173.3 1206.7 176.7 1210 170 1185C163.3 1160 170 1165 180 1145C190 1125 203.3 1148.3 200 1125C196.7 1101.7 193.3 1101.7 170 1075C146.7 1048.3 150.7 1068.3 130 1045C109.3 1021.7 109.7 1031.7 108 1005C106.3 978.3 111 988.3 125 965C139 941.7 136.7 971.7 150 935C163.3 898.3 161.7 911.7 165 855C168.3 798.3 160 816.7 160 765C160 713.3 165 761.7 165 700C165 638.3 173.3 633.3 160 580C146.7 526.7 138.3 570 125 540C111.7 510 111.7 520 120 490C128.3 460 136.7 480 150 450C163.3 420 153.3 440 160 400C166.7 360 168.3 376.7 170 330C171.7 283.3 161.7 300 165 260C168.3 220 158.3 253.3 180 210C201.7 166.7 200 175 230 130C260 85 243.3 96.7 270 75Z" fill="#8494a6" stroke="#9db0c1" stroke-width="4"/><path d="M275 85C271.7 72.3 268.3 68.3 310 72C351.7 75.7 346.7 75 400 96C453.3 117 416.7 98.7 470 135C523.3 171.3 503.3 151.7 560 205C616.7 258.3 596.7 245 640 295C683.3 345 686.7 336 690 355C693.3 374 680 370.3 650 352C620 333.7 636.7 337.3 600 300C563.3 262.7 583.3 280 540 240C496.7 200 516.7 216.7 470 180C423.3 143.3 450 153.3 400 130C350 106.7 361.7 125 320 110C278.3 95 278.3 97.7 275 85Z" fill="#8d9eb0"/><path d="M600 440L690 355C690 355 705 378.3 730 430C755 481.7 744.3 453.3 765 510C785.7 566.7 779 536.7 792 600C805 663.3 799.3 633.3 804 700C808.7 766.7 808 746.7 806 800C804 853.3 804 808.3 798 860C792 911.7 798 890 788 955C778 1020 784.7 995 768 1055C751.3 1115 761.3 1081.7 738 1135C714.7 1188.3 727.3 1166.7 698 1215C668.7 1263.3 682.7 1245.7 650 1280C617.3 1314.3 625 1311.3 600 1318C575 1324.7 575 1300 575 1300C575 1300 571 1300 566 1200C561 1100 562 1133.3 560 1000C558 866.7 558.7 933.3 560 800C561.3 666.7 563.3 710 564 600C564.7 490 550 523.3 562 470C574 416.7 600 440 600 440Z" fill="#8898aa"/><path d="M598 445C598 445 578.7 481.7 566 600C553.3 718.3 562 666.7 560 800C558 933.3 557.3 850 560 1000C562.7 1150 568 1250 568 1250" fill="none" stroke="#a6b8c8" stroke-width="6"/><path d="M540 432L650 350L692 356L602 442Z" fill="#a6b8c8"/><path d="M610 400L660 370L680 395L640 420Z" fill="#8a9bad"/><path d="M290 92C290 92 310 90.7 350 105C390 119.3 371.7 108.3 410 135C448.3 161.7 433.3 143.3 465 185C496.7 226.7 481.7 205 505 260C528.3 315 516.7 290 535 350C553.3 410 560 440 560 440" fill="none" stroke="#a9bbcb" stroke-width="46" stroke-linecap="butt"/><path d="M290 92C290 92 310 90.7 350 105C390 119.3 371.7 108.3 410 135C448.3 161.7 433.3 143.3 465 185C496.7 226.7 481.7 205 505 260C528.3 315 516.7 290 535 350C553.3 410 560 440 560 440" fill="none" stroke="#77889b" stroke-width="14"/><path d="M304 84C304 84 324 82.7 364 97C404 111.3 385.7 100.3 424 127C462.3 153.7 447.3 135.3 479 177C510.7 218.7 495.7 197 519 252C542.3 307 530.7 282 549 342C567.3 402 574 432 574 432" fill="none" stroke="#b9cad7" stroke-width="5"/><path d="M330 175C330 175 386.7 173.3 440 215C493.3 256.7 460 225 490 300C520 375 507.3 340 530 440C552.7 540 549.3 480 558 600C566.7 720 555.3 666.7 556 800C556.7 933.3 558 850 560 1000C562 1150 575.3 1116.7 562 1250C548.7 1383.3 550.7 1336.7 520 1400C489.3 1463.3 470 1440 470 1440C470 1440 450 1346.7 450 1200C450 1053.3 463.3 1133.3 470 1000C476.7 866.7 471.7 933.3 470 800C468.3 666.7 470 733.3 465 600C460 466.7 466.7 513.3 455 400C443.3 286.7 471.7 335 430 260C388.3 185 330 175 330 175Z" fill="#6f8094"/><path d="M330 175L440 215L455 260L330 230Z" fill="#7b8c9f"/><path d="M480 350L520 370L525 400L482 385Z" fill="#8e9fb1"/><path d="M500 760C515 706.7 526.7 740 545 770C563.3 800 551.7 790 555 850C558.3 910 566.7 913.3 555 950C543.3 986.7 538.3 966.7 520 960C501.7 953.3 506.7 996.7 500 930C493.3 863.3 485 813.3 500 760Z" fill="none" stroke="#8e9fb1" stroke-width="8"/><ellipse cx="520" cy="945" rx="14" ry="16" fill="#a9bbcb"/><path d="M480 1040L530 1070L530 1100L482 1075Z" fill="#8e9fb1"/><path d="M465 1260L500 1290L520 1350L490 1340Z" fill="#8e9fb1"/><path d="M320 335L450 282C450 282 461.3 227.3 468 400C474.7 572.7 469.3 602.7 470 800C470.7 997.3 470 992 470 992L296 1042C296 1042 285.3 947.3 290 800C294.7 652.7 300 716.7 310 600C320 483.3 316.7 538.3 320 450C323.3 361.7 320 335 320 335Z" fill="#8798aa"/><path d="M325 325L450 275L452 292L328 342Z" fill="#aabccc"/><path d="M296 1042L470 992L466 1022L330 1078Z" fill="#a6b8c8"/><path d="M290 800L300 600L320 450L320 335L340 345L335 460L318 600L308 800L310 1038L296 1042Z" fill="#76879b"/><ellipse cx="400" cy="470" rx="86" ry="92" fill="#96a8b9" transform="rotate(-20 400 470)" stroke="#a9bbcb" stroke-width="5"/><ellipse cx="402" cy="470" rx="66" ry="72" fill="#8a9bad" transform="rotate(-20 402 470)" stroke="#7a8b9e" stroke-width="5"/><ellipse cx="406" cy="472" rx="46" ry="50" fill="#8e9fb1" transform="rotate(-20 406 472)" stroke="#a9bbcb" stroke-width="4"/><ellipse cx="412" cy="466" rx="26" ry="28" fill="#74859a" transform="rotate(-20 412 466)"/><ellipse cx="404" cy="480" rx="18" ry="18" fill="#a6b8c8"/><ellipse cx="430" cy="680" rx="86" ry="92" fill="#96a8b9" transform="rotate(-20 430 680)" stroke="#a9bbcb" stroke-width="5"/><ellipse cx="432" cy="680" rx="66" ry="72" fill="#8a9bad" transform="rotate(-20 432 680)" stroke="#7a8b9e" stroke-width="5"/><ellipse cx="436" cy="682" rx="46" ry="50" fill="#8e9fb1" transform="rotate(-20 436 682)" stroke="#a9bbcb" stroke-width="4"/><ellipse cx="442" cy="676" rx="26" ry="28" fill="#74859a" transform="rotate(-20 442 676)"/><ellipse cx="434" cy="690" rx="18" ry="18" fill="#a6b8c8"/><ellipse cx="390" cy="895" rx="86" ry="92" fill="#96a8b9" transform="rotate(-20 390 895)" stroke="#a9bbcb" stroke-width="5"/><ellipse cx="392" cy="895" rx="66" ry="72" fill="#8a9bad" transform="rotate(-20 392 895)" stroke="#7a8b9e" stroke-width="5"/><ellipse cx="396" cy="897" rx="46" ry="50" fill="#8e9fb1" transform="rotate(-20 396 897)" stroke="#a9bbcb" stroke-width="4"/><ellipse cx="402" cy="891" rx="26" ry="28" fill="#74859a" transform="rotate(-20 402 891)"/><ellipse cx="394" cy="905" rx="18" ry="18" fill="#a6b8c8"/><path d="M330 1078L466 1022C466 1022 453.7 1057.3 445 1150C436.3 1242.7 445 1216.7 440 1300C435 1383.3 430 1400 430 1400L330 1340C330 1340 312 1287.3 312 1200C312 1112.7 330 1078 330 1078Z" fill="#8797a9"/><path d="M322 1312L428 1162L440 1180L436 1300L425 1395L335 1340Z" fill="#aebfcd"/><path d="M420 1150L470 1120L470 1160L440 1170Z" fill="#9fb1c2"/><path d="M200 232C223.3 188.7 219.3 200 260 200C300.7 200 308.7 188.7 322 232C335.3 275.3 320 267.3 300 330C280 392.7 284.7 370 262 420C239.3 470 247.3 433.3 232 480C216.7 526.7 218 486.7 216 560C214 633.3 221.3 593.3 226 700C230.7 806.7 225.3 801.7 230 880C234.7 958.3 244.7 891.7 240 935C235.3 978.3 246 974.3 216 1010C186 1045.7 185.3 1043.7 150 1042C114.7 1040.3 116.7 1032.3 110 1005C103.3 977.7 113.3 995 130 960C146.7 925 148.3 986.7 160 900C171.7 813.3 165 806.7 165 700C165 593.3 173.3 633.3 160 580C146.7 526.7 138.3 570 125 540C111.7 510 111.7 520 120 490C128.3 460 133.3 480 150 450C166.7 420 156.7 440 170 400C183.3 360 180 386 190 330C200 274 176.7 275.3 200 232Z" fill="#93a5b6"/><path d="M250 330C250 330 238.3 353.3 220 400C201.7 446.7 195 470 195 470" fill="none" stroke="#b9cad7" stroke-width="6"/><path d="M275 340C275 340 262.7 363.3 245 410C227.3 456.7 222 480 222 480" fill="none" stroke="#7b8c9f" stroke-width="6"/><path d="M180 560C180 560 185 593.3 185 700C185 806.7 180 880 180 880" fill="none" stroke="#a9bbcb" stroke-width="8"/><ellipse cx="240" cy="265" rx="42" ry="42" fill="#9fb1c2" stroke="#7b8c9f" stroke-width="5"/><ellipse cx="248" cy="271" rx="18.9" ry="18.9" fill="#b4c5d3"/><ellipse cx="185" cy="505" rx="46" ry="46" fill="#9fb1c2" stroke="#7b8c9f" stroke-width="5"/><ellipse cx="193" cy="511" rx="20.7" ry="20.7" fill="#b4c5d3"/><ellipse cx="185" cy="1002" rx="46" ry="46" fill="#9fb1c2" stroke="#7b8c9f" stroke-width="5"/><ellipse cx="193" cy="1008" rx="20.7" ry="20.7" fill="#b4c5d3"/><ellipse cx="215" cy="1182" rx="40" ry="40" fill="#9fb1c2" stroke="#7b8c9f" stroke-width="5"/><ellipse cx="223" cy="1188" rx="18" ry="18" fill="#b4c5d3"/><path d="M236 572C244.7 555.3 246 564 258 600C270 636 273 645 272 680C271 715 268.3 715 255 705C241.7 695 238.3 694.3 232 650C225.7 605.7 227.3 588.7 236 572Z" fill="#e3eaf0"/><path d="M236 760C244.7 750 254.7 766.7 262 790C269.3 813.3 266.7 820 258 830C249.3 840 243.3 843.3 236 820C228.7 796.7 227.3 770 236 760Z" fill="#d2dde6"/><path d="M240 1110C248.3 1090 265 1083.3 285 1090C305 1096.7 308.3 1110 300 1130C291.7 1150 280 1156.7 260 1150C240 1143.3 231.7 1130 240 1110Z" fill="#9fb1c2"/><path d="M236 1322C236 1322 252 1342.3 300 1380C348 1417.7 323.3 1398.3 380 1435C436.7 1471.7 423.3 1478.3 470 1490C516.7 1501.7 476.7 1520 520 1470C563.3 1420 600 1340 600 1340" fill="none" stroke="#a9bbcb" stroke-width="8"/><path d="M250 1300C250 1300 223.3 1303.3 240 1325C256.7 1346.7 253.3 1333.3 300 1365C346.7 1396.7 330 1386.7 380 1420C430 1453.3 450 1465 450 1465" fill="none" stroke="#bccbd8" stroke-width="5"/><path d="M70 560C73.3 536.7 73.3 536.7 90 530C106.7 523.3 106.7 523.3 120 540C133.3 556.7 133.3 556.7 130 580C126.7 603.3 126.7 603.3 110 610C93.3 616.7 93.3 616.7 80 600C66.7 583.3 66.7 583.3 70 560Z" fill="#8c9daf"/><path d="M90 600C90 600 81.7 626.7 75 680C68.3 733.3 63.3 713.3 70 760C76.7 806.7 73.3 795 95 820C116.7 845 120 845 135 835C150 825 141.7 821.7 140 790C138.3 758.3 130 740 130 740" fill="none" stroke="#8c9daf" stroke-width="8"/><path d="M130 610C130 610 120.7 636.7 120 680C119.3 723.3 118 706.7 128 740C138 773.3 150 780 150 780" fill="none" stroke="#9fb1c2" stroke-width="6"/></g>
<!-- 40_bracket -->
<g transform="translate(490 480) scale(0.15896)" ><path d="M380 66C420 57.7 403.3 50.3 440 60C476.7 69.7 455 68.3 490 95C525 121.7 545 140 545 140C545 140 564.3 163.3 556 185C547.7 206.7 540 191.7 520 205C500 218.3 496 225 496 225L490 265L460 270C460 270 461.7 285 445 295C428.3 305 410 300 410 300C410 300 407.3 270 406 330C404.7 390 403 420 406 480C409 540 413.3 470 415 510C416.7 550 417 566.7 411 600C405 633.3 400.7 590 397 610C393.3 630 385.7 640 400 660C414.3 680 413.3 653.3 440 670C466.7 686.7 446.7 683.3 480 710C513.3 736.7 518 723.3 540 750C562 776.7 552.7 765 546 790C539.3 815 555.3 816.3 520 825C484.7 833.7 496.7 817.7 440 816C383.3 814.3 406.7 817 350 820C293.3 823 308 828.3 270 825C232 821.7 249.3 825 236 810C222.7 795 248.7 793.3 230 780C211.3 766.7 213.3 781.7 180 770C146.7 758.3 161.3 765 130 745C98.7 725 106 735 86 710C66 685 72 696.7 70 670C68 643.3 66.7 653.3 80 630C93.3 606.7 93.3 623.3 110 600C126.7 576.7 120 593.3 130 560C140 526.7 136.7 543.3 140 500C143.3 456.7 142 473.3 140 430C138 386.7 142.3 406.7 134 370C125.7 333.3 131 346.7 115 320C99 293.3 97.7 313.3 86 290C74.3 266.7 75.3 273.3 80 250C84.7 226.7 80 238.3 100 220C120 201.7 110 218.3 140 195C170 171.7 153.3 176.7 190 150C226.7 123.3 206.7 136.7 250 115C293.3 93.3 276.7 101.3 320 85C363.3 68.7 340 74.3 380 66ZM246 322L340 336C340 336 342.3 365.3 344 420C345.7 474.7 346.3 433.3 345 500C343.7 566.7 345 559.3 340 620C335 680.7 330 682 330 682C330 682 318 675.3 290 662C262 648.7 246 642 246 642C246 642 238 630.7 236 560C234 489.3 236.7 509.3 240 430C243.3 350.7 246 322 246 322Z" fill="#8fa1b2" fill-rule="evenodd" stroke="#a3b5c6" stroke-width="3"/><path d="M110 228C120.7 205.3 120 224 150 202C180 180 163.3 187 200 162C236.7 137 216.7 148.7 260 127C303.3 105.3 288.3 112.7 330 97C371.7 81.3 361.7 79 385 80C408.3 81 413.3 84 400 100C386.7 116 381.7 108 345 128C308.3 148 321.7 136 290 160C258.3 184 266.7 170 250 200C233.3 230 244 206.7 240 250C236 293.3 238.7 270 238 330C237.3 390 239.3 353.3 238 430C236.7 506.7 232.7 490 234 560C235.3 630 241.3 593.3 242 640C242.7 686.7 245 673.3 236 700C227 726.7 227 723.3 215 720C203 716.7 201 723.3 200 690C199 656.7 205.3 670 212 620C218.7 570 216.7 596.7 220 540C223.3 483.3 224 503.3 222 450C220 396.7 224 421.7 214 380C204 338.3 213.3 355 192 325C170.7 295 174.7 308.3 150 290C125.3 271.7 131.3 290.7 118 270C104.7 249.3 99.3 250.7 110 228Z" fill="#8797a9"/><path d="M100 232C100 232 105 227.3 130 206C155 184.7 145.3 190.7 175 168C204.7 145.3 189 156.7 219 138C249 119.3 233.7 127.7 265 112C296.3 96.3 281.3 103.7 313 91C344.7 78.3 331 83 360 74C389 65 400 64 400 64" fill="none" stroke="#a6b8c8" stroke-width="20" stroke-linecap="round"/><path d="M225 250C225 250 226.3 270 228 330C229.7 390 230.7 353.3 230 430C229.3 506.7 225.3 490 226 560C226.7 630 232 640 232 640" fill="none" stroke="#a3b5c5" stroke-width="10"/><path d="M138 335C148 308.3 152 331.7 172 350C192 368.3 185.3 356.7 198 390C210.7 423.3 207.3 403.3 210 450C212.7 496.7 212.7 483.3 206 530C199.3 576.7 208.7 559.3 190 590C171.3 620.7 168.7 631.3 150 622C131.3 612.7 136.7 602.7 134 562C131.3 521.3 139.3 544 142 500C144.7 456 143.3 485 142 430C140.7 375 128 361.7 138 335Z" fill="#8495a7"/><path d="M150 345C150 345 168.3 343.3 185 375C201.7 406.7 196.3 388.3 200 440C203.7 491.7 202.7 481.7 196 530C189.3 578.3 180 585 180 585" fill="none" stroke="#a6b8c8" stroke-width="5" opacity="0.8"/><path d="M86 290C74 273.3 75.3 272.7 80 250C84.7 227.3 86.7 222 100 222C113.3 222 114.7 224 120 250C125.3 276 127.3 286.7 116 300C104.7 313.3 98 306.7 86 290Z" fill="#7c8da0"/><path d="M72 670C63.3 645.7 70 653.7 82 632C94 610.3 95.3 599 108 605C120.7 611 120 616.7 120 650C120 683.3 124 698.3 108 705C92 711.7 80.7 694.3 72 670Z" fill="#7c8da0"/><ellipse cx="155" cy="280" rx="15" ry="17" fill="#b0c2d0" stroke="#7c8da0" stroke-width="4"/><ellipse cx="150" cy="685" rx="15" ry="17" fill="#b0c2d0" stroke="#7c8da0" stroke-width="4"/><path d="M290 240C300 225.7 286.7 228 300 212C313.3 196 303.3 206.7 330 192C356.7 177.3 350 182 380 168C410 154 400 154 420 150C440 146 429.3 150 440 156C450.7 162 465.3 153.3 452 168C438.7 182.7 437.3 176 400 200C362.7 224 373.3 217.3 340 240C306.7 262.7 326 255.3 300 268C274 280.7 272 282.3 262 278C252 273.7 260.7 267.7 270 255C279.3 242.3 280 254.3 290 240Z" fill="#8191a4"/><path d="M300 216C299.3 207.3 305 205.3 320 196C335 186.7 329.7 189.3 345 188C360.3 186.7 363.7 184.7 366 192C368.3 199.3 366.7 200 352 210C337.3 220 339.3 220 322 222C304.7 224 300.7 224.7 300 216Z" fill="#ffffff"/><path d="M388 182C392.7 173 392.7 174.3 410 166C427.3 157.7 426 157 440 157C454 157 456.7 158 452 166C447.3 174 444.7 172 426 181C407.3 190 408.7 192.7 396 193C383.3 193.3 383.3 191 388 182Z" fill="#ffffff"/><path d="M262 276C258.7 269 267.3 264.3 290 251C312.7 237.7 304.7 242.3 330 236C355.3 229.7 362 225.7 366 232C370 238.3 364 241.7 342 255C320 268.3 326.7 265 300 272C273.3 279 265.3 283 262 276Z" fill="#ffffff"/><path d="M405 102L440 90L492 136L462 156Z" fill="#6f8094"/><path d="M440 90L492 136L500 128L452 82Z" fill="#adbfce"/><path d="M380 68L440 60L452 82L405 102L345 128L330 100Z" fill="#a2b4c5"/><path d="M462 158L545 142L556 185L520 205L496 225L490 265L462 268L452 232L420 242L402 215Z" fill="#8394a6"/><path d="M470 235L494 227L490 265L472 264Z" fill="#76879b"/><path d="M405 280L445 262L450 292L410 300Z" fill="#9fb1c2"/><path d="M246 288L392 250L405 302L345 337L268 330Z" fill="#b5c6d4"/><path d="M246 288L392 250L440 226L300 264Z" fill="#a0b2c3"/><path d="M345 337L405 315L408 480L415 510L411 600L398 612L400 700L345 760L340 620L345 500Z" fill="#8a9bad"/><path d="M345 337L360 332L362 490L356 620L360 745L345 760L340 620L345 500Z" fill="#7e8fa2"/><path d="M366 492L408 482L415 512L411 598L372 612Z" fill="#a8bac9" stroke="#7a8b9e" stroke-width="3"/><path d="M236 780L300 770L345 760L400 700L440 672L480 710L540 750L546 790L520 825L440 816L350 820L270 825L238 810Z" fill="#899aac"/><path d="M240 797L330 792L400 782L500 792L520 822L440 814L350 818L270 822Z" fill="#74859a"/><path d="M405 700L440 675L480 712L455 740L418 730Z" fill="#a6b8c8"/><path d="M440 740L500 745L535 770L470 775Z" fill="#98aabb"/><path d="M275 655L325 650L335 690L300 705Z" fill="#8495a7"/></g>
<!-- 50_pads -->
<g transform="translate(530 200) scale(0.17033)" ><path d="M160 126C170.3 115.3 161 117 176 110C191 103 205 105 205 105C205 105 201.3 91.7 207 80C212.7 68.3 211 70.7 222 70C233 69.3 233.3 68.7 240 78C246.7 87.3 242 98 242 98C242 98 260.7 89.3 280 90C299.3 90.7 286 83.3 300 100C314 116.7 308.7 106.7 322 140C335.3 173.3 331.3 156.7 340 200C348.7 243.3 348 270 348 270C348 270 354.7 273.3 358 290C361.3 306.7 361.3 304.7 358 320C354.7 335.3 348 336 348 336C348 336 351 345.3 345 380C339 414.7 341.7 403.3 330 440C318.3 476.7 325 464.7 310 490C295 515.3 308.3 502.7 285 516C261.7 529.3 240 530 240 530C240 530 246 544.3 238 555C230 565.7 228.7 563 216 562C203.3 561 206 560.7 200 552C194 543.3 198 536 198 536C198 536 189.3 540.3 175 540C160.7 539.7 163.3 541.7 155 535C146.7 528.3 156.7 528.3 150 520C143.3 511.7 143.3 520 135 510C126.7 500 127.3 526.7 125 490C122.7 453.3 124.7 453.3 128 400C131.3 346.7 133.7 380 135 330C136.3 280 133 300 132 250C131 200 127.7 216 132 180C136.3 144 135.7 160 145 142C154.3 124 149.7 136.7 160 126Z" fill="#8696a6" stroke="#9aacbd" stroke-width="2.5"/><path d="M135 180C138.7 145 138 160 148 145C158 130 158.3 123.3 165 135C171.7 146.7 166.3 141.7 168 180C169.7 218.3 168.7 200 170 250C171.3 300 173.3 280 172 330C170.7 380 169.3 346.7 166 400C162.7 453.3 164 450 162 490C160 530 167.3 514 160 520C152.7 526 150 518.7 140 508C130 497.3 132.3 524 130 488C127.7 452 129.7 452.7 133 400C136.3 347.3 138.7 380 140 330C141.3 280 138.7 300 137 250C135.3 200 131.3 215 135 180Z" fill="#8e9fb0"/><path d="M160 185C160 185 160.7 201.7 162 250C163.3 298.3 165.3 280 164 330C162.7 380 161.3 346.7 158 400C154.7 453.3 156 451.7 154 490C152 528.3 152 515 152 515" fill="none" stroke="#75869a" stroke-width="6"/><path d="M136 200C136 200 136.7 216.7 138 260C139.3 303.3 141.3 283.3 140 330C138.7 376.7 137.3 350 134 400C130.7 450 130 480 130 480" fill="none" stroke="#a3b5c5" stroke-width="5"/><path d="M168 182L326 146C326 146 321.3 129.7 312 115C302.7 100.3 308.7 109 298 102C287.3 95 299.3 94.7 280 94C260.7 93.3 266.7 94.7 240 100C213.3 105.3 222.7 101.3 200 110C177.3 118.7 186.7 112.7 172 126C157.3 139.3 157.3 131.3 156 150C154.7 168.7 168 182 168 182Z" fill="#b3c4d2"/><path d="M162 520C162 520 192 516.7 240 506C288 495.3 306 488 306 488C306 488 308 500.7 286 514C264 527.3 276.7 520 240 528C203.3 536 202 540.7 176 538C150 535.3 162 520 162 520Z" fill="#6c7d91"/><path d="M207 80L222 72L240 80L240 100L207 106Z" fill="#9eb0c1"/><path d="M200 536L238 530L238 554L216 560L201 551Z" fill="#9eb0c1"/><path d="M150 520L175 525L176 540L156 535Z" fill="#a3b5c5"/><path d="M535 416C550.7 398 546.7 407.7 575 396C603.3 384.3 620 381 620 381C620 381 615.3 367.7 622 356C628.7 344.3 628.7 346 640 346C651.3 346 650.7 346 656 356C661.3 366 656 376 656 376C656 376 672 366 690 366C708 366 698 358 710 376C722 394 716.7 385.3 726 420C735.3 454.7 732.7 433.3 738 480C743.3 526.7 742.7 506.7 742 560C741.3 613.3 743.3 590 736 640C728.7 690 732 670 720 710C708 750 713.3 733.3 700 760C686.7 786.7 698.3 776 680 790C661.7 804 645 802 645 802C645 802 649.3 815 643 826C636.7 837 637 835 626 835C615 835 616 835 610 826C604 817 608 808 608 808C608 808 599 817.7 585 815C571 812.3 574.3 808.3 566 800C557.7 791.7 570 800 560 790C550 780 548.7 786.7 536 770C523.3 753.3 525.7 776.7 522 740C518.3 703.3 520.7 710 525 660C529.3 610 533.3 640 535 590C536.7 540 532.3 556.7 530 510C527.7 463.3 526.3 481.3 528 450C529.7 418.7 519.3 434 535 416Z" fill="#8797a9" stroke="#9aacbd" stroke-width="2.5"/><path d="M530 450C532 419.3 528 433 538 418C548 403 552 394.3 560 405C568 415.7 560 415 562 450C564 485 564 463.3 566 510C568 556.7 570 540 568 590C566 640 564 610 560 660C556 710 555.3 696.7 556 740C556.7 783.3 568 780 562 790C556 800 550.7 786.7 538 770C525.3 753.3 527.7 776.7 524 740C520.3 703.3 522.7 710 527 660C531.3 610 535.3 640 537 590C538.7 540 534.3 556.7 532 510C529.7 463.3 528 480.7 530 450Z" fill="#8e9fb0"/><path d="M556 440C556 440 556.7 460 558 510C559.3 560 562 540 560 590C558 640 556 610 552 660C548 710 548 700 548 740C548 780 552 780 552 780" fill="none" stroke="#75869a" stroke-width="6"/><path d="M532 460C532 460 532 476.7 534 520C536 563.3 539.3 543.3 538 590C536.7 636.7 534 611.7 530 660C526 708.3 526 735 526 735" fill="none" stroke="#a3b5c5" stroke-width="5"/><path d="M575 396C590 385.7 593 387.7 620 381C647 374.3 632.7 381 656 376C679.3 371 673.7 366.7 690 366C706.3 365.3 715 366 705 374C695 382 691.7 381.3 660 390C628.3 398.7 638.3 392.7 610 400C581.7 407.3 586.7 413.3 575 412C563.3 410.7 560 406.3 575 396Z" fill="#9fb1c2"/><path d="M622 356L640 347L656 357L656 376L622 382Z" fill="#9eb0c1"/><path d="M610 808L643 802L643 825L626 833L611 825Z" fill="#9eb0c1"/><path d="M566 792L586 800L586 815L568 802Z" fill="#a3b5c5"/><ellipse cx="626" cy="510" rx="8" ry="9" fill="#a3b5c5" stroke="#75869a" stroke-width="2"/><ellipse cx="620" cy="686" rx="8" ry="9" fill="#a3b5c5" stroke="#75869a" stroke-width="2"/><ellipse cx="592" cy="450" rx="4" ry="4" fill="#a3b5c5"/><ellipse cx="585" cy="760" rx="4" ry="4" fill="#a3b5c5"/><g transform="translate(765.6 521.9)"><path d="M160 126C170.3 115.3 161 117 176 110C191 103 205 105 205 105C205 105 201.3 91.7 207 80C212.7 68.3 211 70.7 222 70C233 69.3 233.3 68.7 240 78C246.7 87.3 242 98 242 98C242 98 260.7 89.3 280 90C299.3 90.7 286 83.3 300 100C314 116.7 308.7 106.7 322 140C335.3 173.3 331.3 156.7 340 200C348.7 243.3 348 270 348 270C348 270 354.7 273.3 358 290C361.3 306.7 361.3 304.7 358 320C354.7 335.3 348 336 348 336C348 336 351 345.3 345 380C339 414.7 341.7 403.3 330 440C318.3 476.7 325 464.7 310 490C295 515.3 308.3 502.7 285 516C261.7 529.3 240 530 240 530C240 530 246 544.3 238 555C230 565.7 228.7 563 216 562C203.3 561 206 560.7 200 552C194 543.3 198 536 198 536C198 536 189.3 540.3 175 540C160.7 539.7 163.3 541.7 155 535C146.7 528.3 156.7 528.3 150 520C143.3 511.7 143.3 520 135 510C126.7 500 127.3 526.7 125 490C122.7 453.3 124.7 453.3 128 400C131.3 346.7 133.7 380 135 330C136.3 280 133 300 132 250C131 200 127.7 216 132 180C136.3 144 135.7 160 145 142C154.3 124 149.7 136.7 160 126Z" fill="#8696a6" stroke="#9aacbd" stroke-width="2.5"/><path d="M135 180C138.7 145 138 160 148 145C158 130 158.3 123.3 165 135C171.7 146.7 166.3 141.7 168 180C169.7 218.3 168.7 200 170 250C171.3 300 173.3 280 172 330C170.7 380 169.3 346.7 166 400C162.7 453.3 164 450 162 490C160 530 167.3 514 160 520C152.7 526 150 518.7 140 508C130 497.3 132.3 524 130 488C127.7 452 129.7 452.7 133 400C136.3 347.3 138.7 380 140 330C141.3 280 138.7 300 137 250C135.3 200 131.3 215 135 180Z" fill="#8e9fb0"/><path d="M160 185C160 185 160.7 201.7 162 250C163.3 298.3 165.3 280 164 330C162.7 380 161.3 346.7 158 400C154.7 453.3 156 451.7 154 490C152 528.3 152 515 152 515" fill="none" stroke="#75869a" stroke-width="6"/><path d="M136 200C136 200 136.7 216.7 138 260C139.3 303.3 141.3 283.3 140 330C138.7 376.7 137.3 350 134 400C130.7 450 130 480 130 480" fill="none" stroke="#a3b5c5" stroke-width="5"/><path d="M168 182L326 146C326 146 321.3 129.7 312 115C302.7 100.3 308.7 109 298 102C287.3 95 299.3 94.7 280 94C260.7 93.3 266.7 94.7 240 100C213.3 105.3 222.7 101.3 200 110C177.3 118.7 186.7 112.7 172 126C157.3 139.3 157.3 131.3 156 150C154.7 168.7 168 182 168 182Z" fill="#b3c4d2"/><path d="M162 520C162 520 192 516.7 240 506C288 495.3 306 488 306 488C306 488 308 500.7 286 514C264 527.3 276.7 520 240 528C203.3 536 202 540.7 176 538C150 535.3 162 520 162 520Z" fill="#6c7d91"/><path d="M207 80L222 72L240 80L240 100L207 106Z" fill="#9eb0c1"/><path d="M200 536L238 530L238 554L216 560L201 551Z" fill="#9eb0c1"/><path d="M150 520L175 525L176 540L156 535Z" fill="#a3b5c5"/></g><g transform="translate(758.5 522.5)"><path d="M535 416C550.7 398 546.7 407.7 575 396C603.3 384.3 620 381 620 381C620 381 615.3 367.7 622 356C628.7 344.3 628.7 346 640 346C651.3 346 650.7 346 656 356C661.3 366 656 376 656 376C656 376 672 366 690 366C708 366 698 358 710 376C722 394 716.7 385.3 726 420C735.3 454.7 732.7 433.3 738 480C743.3 526.7 742.7 506.7 742 560C741.3 613.3 743.3 590 736 640C728.7 690 732 670 720 710C708 750 713.3 733.3 700 760C686.7 786.7 698.3 776 680 790C661.7 804 645 802 645 802C645 802 649.3 815 643 826C636.7 837 637 835 626 835C615 835 616 835 610 826C604 817 608 808 608 808C608 808 599 817.7 585 815C571 812.3 574.3 808.3 566 800C557.7 791.7 570 800 560 790C550 780 548.7 786.7 536 770C523.3 753.3 525.7 776.7 522 740C518.3 703.3 520.7 710 525 660C529.3 610 533.3 640 535 590C536.7 540 532.3 556.7 530 510C527.7 463.3 526.3 481.3 528 450C529.7 418.7 519.3 434 535 416Z" fill="#8797a9" stroke="#9aacbd" stroke-width="2.5"/><path d="M530 450C532 419.3 528 433 538 418C548 403 552 394.3 560 405C568 415.7 560 415 562 450C564 485 564 463.3 566 510C568 556.7 570 540 568 590C566 640 564 610 560 660C556 710 555.3 696.7 556 740C556.7 783.3 568 780 562 790C556 800 550.7 786.7 538 770C525.3 753.3 527.7 776.7 524 740C520.3 703.3 522.7 710 527 660C531.3 610 535.3 640 537 590C538.7 540 534.3 556.7 532 510C529.7 463.3 528 480.7 530 450Z" fill="#8e9fb0"/><path d="M556 440C556 440 556.7 460 558 510C559.3 560 562 540 560 590C558 640 556 610 552 660C548 710 548 700 548 740C548 780 552 780 552 780" fill="none" stroke="#75869a" stroke-width="6"/><path d="M532 460C532 460 532 476.7 534 520C536 563.3 539.3 543.3 538 590C536.7 636.7 534 611.7 530 660C526 708.3 526 735 526 735" fill="none" stroke="#a3b5c5" stroke-width="5"/><path d="M575 396C590 385.7 593 387.7 620 381C647 374.3 632.7 381 656 376C679.3 371 673.7 366.7 690 366C706.3 365.3 715 366 705 374C695 382 691.7 381.3 660 390C628.3 398.7 638.3 392.7 610 400C581.7 407.3 586.7 413.3 575 412C563.3 410.7 560 406.3 575 396Z" fill="#9fb1c2"/><path d="M622 356L640 347L656 357L656 376L622 382Z" fill="#9eb0c1"/><path d="M610 808L643 802L643 825L626 833L611 825Z" fill="#9eb0c1"/><path d="M566 792L586 800L586 815L568 802Z" fill="#a3b5c5"/><ellipse cx="626" cy="510" rx="8" ry="9" fill="#a3b5c5" stroke="#75869a" stroke-width="2"/><ellipse cx="620" cy="686" rx="8" ry="9" fill="#a3b5c5" stroke="#75869a" stroke-width="2"/><ellipse cx="592" cy="450" rx="4" ry="4" fill="#a3b5c5"/><ellipse cx="585" cy="760" rx="4" ry="4" fill="#a3b5c5"/></g></g>
<!-- 55_clips -->
<g transform="translate(735 290) scale(0.06811)" ><path d="M140 325L300 290L440 385L300 430Z" fill="#8b9cae"/><path d="M300 290L440 385" fill="none" stroke="#dfe7ee" stroke-width="8"/><path d="M285 160L440 105L540 160L570 180L610 215L520 245L470 262L440 292L285 200Z" fill="#8fa1b2"/><path d="M285 170L440 262L440 385L300 290L285 250Z" fill="#6d7e92"/><path d="M520 245L610 215L610 290L580 290Z" fill="#7a8b9e"/><path d="M538 130L560 128L570 180L540 165Z" fill="#75869a"/><path d="M610 215L660 262L664 225L690 220L702 280L620 312L585 290Z" fill="#8e9fb1"/><path d="M345 205L395 215L375 260L345 240Z" fill="none" stroke="#c5d2dd" stroke-width="6"/><path d="M300 545L400 540L400 628L310 632Z" fill="#8d9eb0"/><path d="M395 560C403.3 516.7 391.7 541.7 420 520C448.3 498.3 436.7 505 480 495C523.3 485 506.7 483.3 550 490C593.3 496.7 576.7 491.7 610 515C643.3 538.3 635 515 650 560C665 605 658.3 605 655 650C651.7 695 661.7 670 640 695C618.3 720 630 711.7 590 725C550 738.3 566.7 735 520 735C473.3 735 488.3 736.7 450 725C411.7 713.3 423.3 725 405 700C386.7 675 398.3 696.7 395 650C391.7 603.3 386.7 603.3 395 560Z" fill="#8292a5"/><path d="M395 560C401.7 524 391.7 541.7 420 520C448.3 498.3 436.7 505 480 495C523.3 485 506.7 483.3 550 490C593.3 496.7 576.7 491.7 610 515C643.3 538.3 640 528.3 650 560C660 591.7 663.3 596.7 640 610C616.7 623.3 626.7 601.7 580 600C533.3 598.3 550 596.7 500 605C450 613.3 463.3 617.3 430 625C396.7 632.7 411.7 649.7 400 628C388.3 606.3 388.3 596 395 560Z" fill="#93a5b6"/><path d="M520 505C536.7 493.3 538.3 496.7 570 510C601.7 523.3 595 518.3 615 545C635 571.7 635 578.3 630 590C625 601.7 623.3 593.3 600 580C576.7 566.7 586.7 561.7 560 550C533.3 538.3 533.3 560 520 545C506.7 530 503.3 516.7 520 505Z" fill="#76879b"/></g><g transform="translate(735 425) scale(0.06811)" ><path d="M240 240L340 238L340 325L248 332Z" fill="#8d9eb0"/><path d="M325 255C331.7 210 321.7 236 350 215C378.3 194 366.7 200.3 410 192C453.3 183.7 436.7 183.3 480 190C523.3 196.7 506.7 190.3 540 212C573.3 233.7 565 209 580 255C595 301 588.3 303.3 585 350C581.7 396.7 591.7 370 570 395C548.3 420 560 411.7 520 425C480 438.3 496.7 435 450 435C403.3 435 416.7 436.7 380 425C343.3 413.3 356.7 425 340 400C323.3 375 335 398.3 330 350C325 301.7 318.3 300 325 255Z" fill="#8292a5"/><path d="M325 255C330 218.3 321.7 236 350 215C378.3 194 366.7 200.3 410 192C453.3 183.7 436.7 183.3 480 190C523.3 196.7 506.7 190.3 540 212C573.3 233.7 570 224 580 255C590 286 593.3 291 570 305C546.7 319 556.7 298 510 297C463.3 296 480 293.7 430 302C380 310.3 391.7 314.3 360 322C328.3 329.7 346.7 347.3 335 325C323.3 302.7 320 291.7 325 255Z" fill="#93a5b6"/><path d="M450 205C466.7 192.7 468.3 196.3 500 208C531.7 219.7 524.3 214.3 545 240C565.7 265.7 567 272.3 562 285C557 297.7 554 289.7 530 278C506 266.3 516.7 261 490 250C463.3 239 463.3 260 450 245C436.7 230 433.3 217.3 450 205Z" fill="#76879b"/><path d="M118 598L250 562C250 562 270 574 310 600C350 626 333.3 619.3 370 640C406.7 660.7 420 662 420 662L330 700C330 700 316.7 700 270 680C223.3 660 240.7 667.3 190 640C139.3 612.7 118 598 118 598Z" fill="#8b9cae"/><path d="M330 700L420 662L440 790L400 780L300 705Z" fill="#7a8b9e"/><path d="M420 662L580 735L585 765L440 795L405 780Z" fill="#90a2b3"/><path d="M428 550L510 530L540 545L545 570L590 600L585 740L428 660Z" fill="#6d7e92"/><path d="M428 550L510 530L545 548L600 600L655 622L675 640L675 695L650 690L648 650L590 640L520 590L428 570Z" fill="#93a5b6"/></g>
<!-- 60_rings -->
<g transform="translate(915 240) scale(0.15891)" ><g transform="translate(195.1 312.8)"><ellipse cx="0" cy="0" rx="125.5" ry="152" fill="#8899ab" transform="rotate(29 0 0)" stroke="#9fb1c2" stroke-width="3"/><ellipse cx="-0.9" cy="-0.6" rx="116" ry="142" fill="none" transform="rotate(29 -0.9 -0.6)" stroke="#a3b5c6" stroke-width="5" opacity="0.8"/><ellipse cx="-3" cy="-2" rx="96" ry="122" fill="#7a8b9f" transform="rotate(29 -3 -2)" stroke="#9db0c1" stroke-width="4"/><ellipse cx="-7.8" cy="-5.5" rx="82" ry="110" fill="#8c9daf" transform="rotate(29 -7.8 -5.5)"/><ellipse cx="-10.7" cy="-7.6" rx="73" ry="102" fill="#a9bbcb" transform="rotate(30 -10.7 -7.6)"/><ellipse cx="-12.6" cy="-9" rx="67" ry="97" fill="#ffffff" transform="rotate(30 -12.6 -9)"/></g><g transform="translate(655.4 188.8)"><ellipse cx="0" cy="0" rx="125.5" ry="152" fill="#8899ab" transform="rotate(29 0 0)" stroke="#9fb1c2" stroke-width="3"/><ellipse cx="1.2" cy="0.6" rx="116" ry="142" fill="none" transform="rotate(29 1.2 0.6)" stroke="#a3b5c6" stroke-width="5" opacity="0.8"/><ellipse cx="4" cy="2" rx="96" ry="122" fill="#7a8b9f" transform="rotate(29 4 2)" stroke="#9db0c1" stroke-width="4"/><ellipse cx="9.8" cy="5.3" rx="82" ry="110" fill="#8c9daf" transform="rotate(29 9.8 5.3)"/><ellipse cx="13.3" cy="7.3" rx="73" ry="102" fill="#a9bbcb" transform="rotate(30 13.3 7.3)"/><ellipse cx="15.7" cy="8.6" rx="67" ry="97" fill="#ffffff" transform="rotate(30 15.7 8.6)"/></g><g transform="translate(205.2 731.2)"><ellipse cx="0" cy="0" rx="125.5" ry="152" fill="#8899ab" transform="rotate(29 0 0)" stroke="#9fb1c2" stroke-width="3"/><ellipse cx="-0.9" cy="-0.6" rx="116" ry="142" fill="none" transform="rotate(29 -0.9 -0.6)" stroke="#a3b5c6" stroke-width="5" opacity="0.8"/><ellipse cx="-3" cy="-2" rx="96" ry="122" fill="#7a8b9f" transform="rotate(29 -3 -2)" stroke="#9db0c1" stroke-width="4"/><ellipse cx="-7.8" cy="-5.5" rx="82" ry="110" fill="#8c9daf" transform="rotate(29 -7.8 -5.5)"/><ellipse cx="-10.7" cy="-7.6" rx="73" ry="102" fill="#a9bbcb" transform="rotate(30 -10.7 -7.6)"/><ellipse cx="-12.6" cy="-9" rx="67" ry="97" fill="#ffffff" transform="rotate(30 -12.6 -9)"/></g><g transform="translate(667.1 606.0)"><ellipse cx="0" cy="0" rx="125.5" ry="152" fill="#8899ab" transform="rotate(29 0 0)" stroke="#9fb1c2" stroke-width="3"/><ellipse cx="1.2" cy="0.6" rx="116" ry="142" fill="none" transform="rotate(29 1.2 0.6)" stroke="#a3b5c6" stroke-width="5" opacity="0.8"/><ellipse cx="4" cy="2" rx="96" ry="122" fill="#7a8b9f" transform="rotate(29 4 2)" stroke="#9db0c1" stroke-width="4"/><ellipse cx="9.8" cy="5.3" rx="82" ry="110" fill="#8c9daf" transform="rotate(29 9.8 5.3)"/><ellipse cx="13.3" cy="7.3" rx="73" ry="102" fill="#a9bbcb" transform="rotate(30 13.3 7.3)"/><ellipse cx="15.7" cy="8.6" rx="67" ry="97" fill="#ffffff" transform="rotate(30 15.7 8.6)"/></g><g transform="translate(231.0 1139.0)"><ellipse cx="0" cy="0" rx="125.5" ry="152" fill="#8899ab" transform="rotate(29 0 0)" stroke="#9fb1c2" stroke-width="3"/><ellipse cx="-0.9" cy="-0.6" rx="116" ry="142" fill="none" transform="rotate(29 -0.9 -0.6)" stroke="#a3b5c6" stroke-width="5" opacity="0.8"/><ellipse cx="-3" cy="-2" rx="96" ry="122" fill="#7a8b9f" transform="rotate(29 -3 -2)" stroke="#9db0c1" stroke-width="4"/><ellipse cx="-7.8" cy="-5.5" rx="82" ry="110" fill="#8c9daf" transform="rotate(29 -7.8 -5.5)"/><ellipse cx="-10.7" cy="-7.6" rx="73" ry="102" fill="#a9bbcb" transform="rotate(30 -10.7 -7.6)"/><ellipse cx="-12.6" cy="-9" rx="67" ry="97" fill="#ffffff" transform="rotate(30 -12.6 -9)"/></g><g transform="translate(696.6 1011.3)"><ellipse cx="0" cy="0" rx="125.5" ry="152" fill="#8899ab" transform="rotate(29 0 0)" stroke="#9fb1c2" stroke-width="3"/><ellipse cx="1.2" cy="0.6" rx="116" ry="142" fill="none" transform="rotate(29 1.2 0.6)" stroke="#a3b5c6" stroke-width="5" opacity="0.8"/><ellipse cx="4" cy="2" rx="96" ry="122" fill="#7a8b9f" transform="rotate(29 4 2)" stroke="#9db0c1" stroke-width="4"/><ellipse cx="9.8" cy="5.3" rx="82" ry="110" fill="#8c9daf" transform="rotate(29 9.8 5.3)"/><ellipse cx="13.3" cy="7.3" rx="73" ry="102" fill="#a9bbcb" transform="rotate(30 13.3 7.3)"/><ellipse cx="15.7" cy="8.6" rx="67" ry="97" fill="#ffffff" transform="rotate(30 15.7 8.6)"/></g></g>
<!-- 70_small -->
<g transform="translate(360 380) scale(0.06811)" ><path d="M341.3 218L713.3 483L650.7 571L278.7 306Z" fill="#8b9cae"/><path d="M328.8 235.6L700.8 500.6L682 527L310 262Z" fill="#a3b5c6" opacity="0.75"/><path d="M278.7 306L650.7 571L667.9 546.8L295.9 281.8Z" fill="#74859a" opacity="0.85"/><ellipse cx="682" cy="527" rx="42" ry="54" fill="#8fa1b2" transform="rotate(35.5 682 527)" stroke="#a3b5c6" stroke-width="4.3"/><path d="M255 200C283.3 153.3 296.7 178.3 335 190C373.3 201.7 341.7 203.3 370 235C398.3 266.7 426.7 235 420 285C413.3 335 390 363.3 350 385C310 406.7 333.3 368.3 300 350C266.7 331.7 265 380 250 330C235 280 226.7 246.7 255 200Z" fill="#8b9cae"/><path d="M265 215C278.3 199.3 293.3 195 325 205C356.7 215 356.7 226 360 245C363.3 264 360 259.7 335 262C310 264.3 308.3 267.7 285 252C261.7 236.3 251.7 230.7 265 215Z" fill="#aabccc"/><path d="M132 215C140 178.3 127.3 189 150 160C172.7 131 150 141.3 200 128C250 114.7 254.7 116 300 120C345.3 124 321.3 120.7 336 140C350.7 159.3 356 158 344 178C332 198 327.3 181 300 200C272.7 219 278.7 205 262 235C245.3 265 250 256.7 250 290C250 323.3 265.3 315.7 262 335C258.7 354.3 268.7 342.3 240 348C211.3 353.7 208.7 360.7 176 352C143.3 343.3 158.7 349.3 142 322C125.3 294.7 129.3 305.7 126 270C122.7 234.3 124 251.7 132 215Z" fill="#8c9daf" stroke="#a0b2c3" stroke-width="3"/><path d="M200 150C241.7 127.3 256.7 132 300 132C343.3 132 333.3 130.7 330 150C326.7 169.3 318.3 161.7 290 190C261.7 218.3 263.3 198.3 245 235C226.7 271.7 246.7 268.3 235 300C223.3 331.7 228.3 321.7 210 330C191.7 338.3 195 345 180 325C165 305 166.7 311.7 165 270C163.3 228.3 163.3 240 175 200C186.7 160 158.3 172.7 200 150Z" fill="#9fb1c2"/><path d="M300 200C300 200 278.7 205 262 235C245.3 265 250 256.7 250 290C250 323.3 262 335 262 335" fill="none" stroke="#b7c8d6" stroke-width="8"/><path d="M145 220C145 220 133.3 236.7 135 270C136.7 303.3 138.3 296.7 150 320C161.7 343.3 170 340 170 340" fill="none" stroke="#6f8094" stroke-width="10"/><g transform="translate(5.9 1609.3)"><path d="M341.3 218L713.3 483L650.7 571L278.7 306Z" fill="#8b9cae"/><path d="M328.8 235.6L700.8 500.6L682 527L310 262Z" fill="#a3b5c6" opacity="0.75"/><path d="M278.7 306L650.7 571L667.9 546.8L295.9 281.8Z" fill="#74859a" opacity="0.85"/><ellipse cx="682" cy="527" rx="42" ry="54" fill="#8fa1b2" transform="rotate(35.5 682 527)" stroke="#a3b5c6" stroke-width="4.3"/><path d="M255 200C283.3 153.3 296.7 178.3 335 190C373.3 201.7 341.7 203.3 370 235C398.3 266.7 426.7 235 420 285C413.3 335 390 363.3 350 385C310 406.7 333.3 368.3 300 350C266.7 331.7 265 380 250 330C235 280 226.7 246.7 255 200Z" fill="#8b9cae"/><path d="M265 215C278.3 199.3 293.3 195 325 205C356.7 215 356.7 226 360 245C363.3 264 360 259.7 335 262C310 264.3 308.3 267.7 285 252C261.7 236.3 251.7 230.7 265 215Z" fill="#aabccc"/><path d="M132 215C140 178.3 127.3 189 150 160C172.7 131 150 141.3 200 128C250 114.7 254.7 116 300 120C345.3 124 321.3 120.7 336 140C350.7 159.3 356 158 344 178C332 198 327.3 181 300 200C272.7 219 278.7 205 262 235C245.3 265 250 256.7 250 290C250 323.3 265.3 315.7 262 335C258.7 354.3 268.7 342.3 240 348C211.3 353.7 208.7 360.7 176 352C143.3 343.3 158.7 349.3 142 322C125.3 294.7 129.3 305.7 126 270C122.7 234.3 124 251.7 132 215Z" fill="#8c9daf" stroke="#a0b2c3" stroke-width="3"/><path d="M200 150C241.7 127.3 256.7 132 300 132C343.3 132 333.3 130.7 330 150C326.7 169.3 318.3 161.7 290 190C261.7 218.3 263.3 198.3 245 235C226.7 271.7 246.7 268.3 235 300C223.3 331.7 228.3 321.7 210 330C191.7 338.3 195 345 180 325C165 305 166.7 311.7 165 270C163.3 228.3 163.3 240 175 200C186.7 160 158.3 172.7 200 150Z" fill="#9fb1c2"/><path d="M300 200C300 200 278.7 205 262 235C245.3 265 250 256.7 250 290C250 323.3 262 335 262 335" fill="none" stroke="#b7c8d6" stroke-width="8"/><path d="M145 220C145 220 133.3 236.7 135 270C136.7 303.3 138.3 296.7 150 320C161.7 343.3 170 340 170 340" fill="none" stroke="#6f8094" stroke-width="10"/></g></g><g transform="translate(310 462) scale(0.05675)" ><path d="M250 300C250 256.7 246.7 268.3 270 230C293.3 191.7 276.7 204.3 320 185C363.3 165.7 346.7 172 400 172C453.3 172 433.3 165.7 480 185C526.7 204.3 512.7 195 540 230C567.3 265 558.7 246.7 562 290C565.3 333.3 570.7 313.3 550 360C529.3 406.7 536.7 393.3 500 430C463.3 466.7 483.3 456.7 440 470C396.7 483.3 413.3 483.3 370 470C326.7 456.7 343.3 466.7 310 430C276.7 393.3 290 403.3 270 360C250 316.7 250 343.3 250 300Z" fill="#8797a9" stroke="#9db0c1" stroke-width="3"/><ellipse cx="440" cy="320" rx="120" ry="140" fill="#91a3b4" transform="rotate(15 440 320)"/><path d="M252 300L270 232L300 200L310 300L300 420L272 360Z" fill="#7d8ea1"/><path d="M457.3 261.7L707.3 436.7L632.7 543.3L382.7 368.3Z" fill="#8b9cae"/><path d="M442.4 283L692.4 458L670 490L420 315Z" fill="#a3b5c6" opacity="0.75"/><path d="M382.7 368.3L632.7 543.3L653.2 514L403.2 339Z" fill="#74859a" opacity="0.85"/><ellipse cx="670" cy="490" rx="50" ry="65" fill="#8fa1b2" transform="rotate(35 670 490)" stroke="#a3b5c6" stroke-width="5.2"/></g><g transform="translate(1075 300) scale(0.07945)" ><path d="M262 300C263.7 261.7 257.3 270 280 235C302.7 200 290 211.7 330 195C370 178.3 356.7 181.7 400 185C443.3 188.3 426.7 181.7 460 205C493.3 228.3 487.3 216.7 500 255C512.7 293.3 508 278.3 498 320C488 361.7 496 346.7 470 380C444 413.3 456.7 405 420 420C383.3 435 398.3 433.3 360 425C321.7 416.7 333.3 420 305 395C276.7 370 289.3 381.7 275 350C260.7 318.3 260.3 338.3 262 300Z" fill="#8797a9" stroke="#9db0c1" stroke-width="3"/><ellipse cx="405" cy="305" rx="95" ry="115" fill="#93a5b6" transform="rotate(15 405 305)"/><path d="M264 300L282 238L310 212L318 300L312 390L280 350Z" fill="#7d8ea1"/><path d="M428 255.6L618 375.6L562 464.4L372 344.4Z" fill="#8b9cae"/><path d="M416.8 273.4L606.8 393.4L590 420L400 300Z" fill="#a3b5c6" opacity="0.75"/><path d="M372 344.4L562 464.4L577.4 440L387.4 320Z" fill="#74859a" opacity="0.85"/><ellipse cx="590" cy="420" rx="40" ry="52.5" fill="#8fa1b2" transform="rotate(32.3 590 420)" stroke="#a3b5c6" stroke-width="4.2"/></g><g transform="translate(180 500) scale(0.07945)" ><path d="M188.4 491.7L358.4 591.7L301.6 688.3L131.6 588.3Z" fill="#8b9cae"/><path d="M177 511L347 611L330 640L160 540Z" fill="#a3b5c6" opacity="0.75"/><path d="M131.6 588.3L301.6 688.3L317.2 661.7L147.2 561.7Z" fill="#74859a" opacity="0.85"/><ellipse cx="160" cy="540" rx="38" ry="56" fill="#8c9daf" transform="rotate(30 160 540)"/><path d="M230 680C233.3 633.3 223.3 640 250 590C276.7 540 263.3 556.7 310 530C356.7 503.3 340 506.7 390 510C440 513.3 425 506.7 460 540C495 573.3 480 556.7 495 610C510 663.3 510 650 505 700C500 750 508.3 728.3 480 760C451.7 791.7 466.7 781.7 420 795C373.3 808.3 388.3 808.3 340 800C291.7 791.7 308.3 793.3 275 770C241.7 746.7 255 760 240 730C225 700 226.7 726.7 230 680Z" fill="#8a9bad" stroke="#9fb1c2" stroke-width="3"/><path d="M300 650C313.3 603.3 310 611.7 350 590C390 568.3 380 571.7 420 585C460 598.3 443.3 591.7 470 630C496.7 668.3 496.7 660 500 700C503.3 740 503.3 723.3 480 750C456.7 776.7 470 773.3 430 780C390 786.7 400 786.7 360 770C320 753.3 330 770 310 730C290 690 286.7 696.7 300 650Z" fill="#94a6b7"/><path d="M400 670C418.3 640 417.3 641.7 450 640C482.7 638.3 480.7 638.3 498 665C515.3 691.7 511.3 688.3 502 720C492.7 751.7 497.3 741.7 470 760C442.7 778.3 445 785 420 775C395 765 401.7 765 395 730C388.3 695 381.7 700 400 670Z" fill="#8797a9" stroke="#a9bbcb" stroke-width="3"/><path d="M330 620C336.7 596.7 356.7 593.3 380 600C403.3 606.7 406.7 616.7 400 640C393.3 663.3 383.3 676.7 360 670C336.7 663.3 323.3 643.3 330 620Z" fill="#b4c5d3"/></g><g transform="translate(330 680) scale(0.07945)" ><path d="M238 215C234.7 183.3 229.3 193.3 245 165C260.7 136.7 255 143.3 285 130C315 116.7 306.7 118.3 335 125C363.3 131.7 361.7 108.3 370 150C378.3 191.7 383.3 203.3 360 250C336.7 296.7 335 286.7 300 290C265 293.3 275.7 285 255 260C234.3 235 241.3 246.7 238 215Z" fill="#8495a7"/><path d="M250 170C251.7 151.7 256.7 148.3 285 135C313.3 121.7 308.3 125 335 130C361.7 135 366.7 135 365 150C363.3 165 358.3 161.7 330 175C301.7 188.3 306.7 191.7 280 190C253.3 188.3 248.3 188.3 250 170Z" fill="#9aacbd"/><ellipse cx="405" cy="262" rx="108" ry="132" fill="#8c9daf" transform="rotate(25 405 262)" stroke="#a0b2c3" stroke-width="3"/><ellipse cx="410" cy="268" rx="28" ry="32" fill="#a9bbcb" transform="rotate(25 410 268)" stroke="#7a8b9e" stroke-width="3"/><ellipse cx="408" cy="270" rx="9" ry="9" fill="#dde5ec"/></g><g transform="translate(425 650) scale(0.09083)" ><path d="M262 440L720 318" fill="none" stroke="#a3b5c5" stroke-width="9"/><path d="M262 446L720 324" fill="none" stroke="#7c8da0" stroke-width="4"/><path d="M205 570L240 570L240 680L206 684Z" fill="#93a5b6"/><path d="M142 435L205 420L250 432L268 455L245 490L265 540L240 570L185 580L142 548Z" fill="#8696a8"/><path d="M142 435L185 455L190 578L142 548Z" fill="#94a6b7"/><path d="M142 435L205 420L250 432L190 456Z" fill="#7a8b9e"/><path d="M712 290C718 270 667.3 291.7 730 270C792.7 248.3 815 253 900 225C985 197 938.3 201 985 186C1031.7 171 1013.7 170.3 1040 180C1066.3 189.7 1056.7 181.7 1064 215C1071.3 248.3 1103.3 241.7 1062 280C1020.7 318.3 983.3 308.3 940 330C896.7 351.7 943.7 341.7 932 345C920.3 348.3 962.3 333 905 340C847.7 347 818.3 358.7 760 366C701.7 373.3 746 374 730 362C714 350 718 354 712 330C706 306 706 310 712 290Z" fill="#8c9daf" stroke="#a0b2c3" stroke-width="3"/><path d="M745 290L900 245L905 275L750 320Z" fill="#a6b8c8" opacity="0.8"/><path d="M915 235L985 200L1040 195L1045 225L920 270Z" fill="#9fb1c2" opacity="0.8"/><path d="M900 225L915 222L935 340L908 340Z" fill="#7a8b9e"/><ellipse cx="728" cy="318" rx="18" ry="45" fill="#7c8da0" transform="rotate(-15 728 318)"/></g><g transform="translate(460 440) scale(0.06811)" ><ellipse cx="390" cy="240" rx="110" ry="115" fill="#3f4c5b" stroke="#56677a" stroke-width="4"/><ellipse cx="405" cy="250" rx="85" ry="95" fill="none" transform="rotate(30 405 250)" stroke="#5d6e82" stroke-width="10"/><ellipse cx="490" cy="295" rx="70" ry="76" fill="#465463" stroke="#5f7084" stroke-width="4"/><ellipse cx="470" cy="280" rx="62" ry="70" fill="none" transform="rotate(30 470 280)" stroke="#6a7c90" stroke-width="8"/><ellipse cx="500" cy="305" rx="42" ry="48" fill="#56677a"/><g transform="translate(-117.5 1659.2)"><ellipse cx="390" cy="240" rx="110" ry="115" fill="#3f4c5b" stroke="#56677a" stroke-width="4"/><ellipse cx="405" cy="250" rx="85" ry="95" fill="none" transform="rotate(30 405 250)" stroke="#5d6e82" stroke-width="10"/><ellipse cx="490" cy="295" rx="70" ry="76" fill="#465463" stroke="#5f7084" stroke-width="4"/><ellipse cx="470" cy="280" rx="62" ry="70" fill="none" transform="rotate(30 470 280)" stroke="#6a7c90" stroke-width="8"/><ellipse cx="500" cy="305" rx="42" ry="48" fill="#56677a"/></g></g><g transform="translate(870 100) scale(0.06811)" ><path d="M318 310C321.3 285 323.3 331.7 330 295C336.7 258.3 328 248.3 338 200C348 151.7 336 171.7 360 150C384 128.3 370 139 410 135C450 131 443.3 129.7 480 138C516.7 146.3 500.7 129.3 520 160C539.3 190.7 531.3 185 538 230C544.7 275 534.3 266.7 540 295C545.7 323.3 551 291.7 555 315C559 338.3 563.7 336.7 552 365C540.3 393.3 557.3 384.3 520 400C482.7 415.7 493.3 411.3 440 412C386.7 412.7 400 416 360 402C320 388 334 400.7 320 370C306 339.3 314.7 335 318 310Z" fill="#8c9daf" stroke="#a0b2c3" stroke-width="3"/><path d="M318 320C344.7 311.7 346 336.7 400 345C454 353.3 428.3 353.3 480 345C531.7 336.7 531 313.3 555 320C579 326.7 563.7 338.3 552 365C540.3 391.7 557.3 384.3 520 400C482.7 415.7 493.3 411.3 440 412C386.7 412.7 400 416 360 402C320 388 334 397.3 320 370C306 342.7 291.3 328.3 318 320Z" fill="#8292a5"/><path d="M330 290C330 290 350 296.7 400 300C450 303.3 433.3 305 480 300C526.7 295 540 285 540 285" fill="none" stroke="#a9bbcb" stroke-width="8"/><path d="M320 330C320 330 346.7 343.3 400 350C453.3 356.7 429.3 357.3 480 350C530.7 342.7 552 328 552 328" fill="none" stroke="#a3b5c5" stroke-width="6"/><path d="M430 200C443.3 168.3 450 181.7 470 195C490 208.3 485 208.3 490 240C495 271.7 505 273.3 485 290C465 306.7 448.3 320 430 290C411.7 260 416.7 231.7 430 200Z" fill="#a6b8c8" opacity="0.7"/></g><g transform="translate(865 165) scale(0.07945)" ><path d="M372 190C373.7 160 369 169 385 155C401 141 396.7 147 420 148C443.3 149 440 142.3 455 158C470 173.7 465 166 465 195C465 224 483.3 228.3 455 245C426.7 261.7 407.7 263.3 380 245C352.3 226.7 370.3 220 372 190Z" fill="#8fa1b2" stroke="#a0b2c3" stroke-width="3"/><path d="M335 285C338.3 259.3 333.3 271.3 350 258C366.7 244.7 350 249.3 385 245C420 240.7 420 239.3 455 245C490 250.7 474.3 247 490 262C505.7 277 500.3 265.7 502 290C503.7 314.3 505.7 311.7 495 335C484.3 358.3 515 351.7 470 360C425 368.3 403.3 368.3 360 360C316.7 351.7 348.3 360 340 335C331.7 310 331.7 310.7 335 285Z" fill="#8a9bad" stroke="#a0b2c3" stroke-width="3"/><path d="M350 362C390 339.3 430 336 470 362C510 388 476.7 404 470 440C463.3 476 463.3 450 450 470C436.7 490 443.3 486.7 430 500C416.7 513.3 423.3 510 410 510C396.7 510 405 515 390 500C375 485 378.3 488.3 365 465C351.7 441.7 355 464.3 350 430C345 395.7 310 384.7 350 362Z" fill="#8494a6"/><path d="M352 365L468 365L466 385L354 385Z" fill="#b7c8d6"/><path d="M350 275L490 270L492 290L345 295Z" fill="#a6b8c8"/><path d="M385 465L440 465L432 495L410 506L392 496Z" fill="#6f8094"/><ellipse cx="420" cy="200" rx="25" ry="30" fill="#a9bbcb" opacity="0.7"/></g><g transform="translate(1230 395) scale(0.11351)" ><path d="M85 96C74.7 73.7 88 79.7 105 73C122 66.3 112.3 63.7 136 76C159.7 88.3 166 90.7 176 110C186 129.3 179.3 124 166 134C152.7 144 163 152.7 136 140C109 127.3 95.3 118.3 85 96Z" fill="#8e9fb1" stroke="#a3b5c5" stroke-width="3"/><path d="M150 140C163.3 143 166 140 186 165C206 190 198 179.3 210 215C222 250.7 228 246.3 222 272C216 297.7 207.3 316 192 292C176.7 268 191.3 245.3 176 200C160.7 154.7 154.7 176 146 156C137.3 136 136.7 137 150 140Z" fill="#8494a6"/><path d="M225 205L256 180L346 216L330 262L300 250L240 226Z" fill="#8c9daf" stroke="#a3b5c5" stroke-width="3"/><path d="M238 226L300 250L330 262L326 245L250 212Z" fill="#76879b"/><path d="M240 228L270 240L296 292L262 302Z" fill="#8090a3"/><path d="M215 240L235 232L250 290L228 292Z" fill="#76879b"/><path d="M176 280C194.7 252.7 182 264.7 222 268C262 271.3 275.3 246 296 290C316.7 334 285.3 346.7 284 400C282.7 453.3 294.7 400 292 450C289.3 500 279.3 483.3 276 550C272.7 616.7 290.7 610.7 282 650C273.3 689.3 282 668 250 668C218 668 209.3 672.7 186 650C162.7 627.3 186.7 643.3 180 600C173.3 556.7 166 580 166 520C166 460 180 476.7 180 420C180 363.3 167.3 396.7 166 350C164.7 303.3 157.3 307.3 176 280ZM205 325L250 345L240 396L195 370ZM195 450L245 470L238 530L192 505ZM200 560L240 585L230 626L190 600Z" fill="#8595a7" fill-rule="evenodd"/><path d="M176 285C176 285 166.7 305 168 350C169.3 395 180 363.3 180 420C180 476.7 168 460 168 520C168 580 180 600 180 600" fill="none" stroke="#a3b5c5" stroke-width="5"/><path d="M290 300C290 300 280.7 350 280 400C279.3 450 290.7 400 288 450C285.3 500 275.3 486.7 272 550C268.7 613.3 278 640 278 640" fill="none" stroke="#6f8094" stroke-width="6"/><path d="M186 645C200.3 630 210.3 630 215 650C219.7 670 218.3 673.3 200 705C181.7 736.7 180 735 160 745C140 755 136 751.7 140 735C144 718.3 156.7 725 172 695C187.3 665 171.7 660 186 645Z" fill="#8797a9"/><path d="M75 700C74 684.7 63.7 676.7 92 690C120.3 703.3 135.7 715 160 740C184.3 765 171.7 753 165 765C158.3 777 163.3 785.7 140 776C116.7 766.3 116.7 761.3 95 736C73.3 710.7 76 715.3 75 700Z" fill="#8e9fb1" stroke="#a3b5c5" stroke-width="3"/><path d="M245 655C253 631.7 267.7 628.3 282 650C296.3 671.7 292 671.7 288 720C284 768.3 286 771.7 270 795C254 818.3 244 815 240 790C236 765 256.3 765 258 720C259.7 675 237 678.3 245 655Z" fill="#8090a3"/><path d="M222 668L245 660L250 700L228 705Z" fill="#7b8c9f"/><path d="M215 790C220.7 776.7 203.7 760 242 780C280.3 800 300 820 330 850C360 880 342 864.7 332 870C322 875.3 335.7 882.7 300 866C264.3 849.3 253.3 845.3 225 820C196.7 794.7 209.3 803.3 215 790Z" fill="#8e9fb1" stroke="#a3b5c5" stroke-width="3"/></g><g transform="translate(1195 395) scale(0.18155)" ><path d="M68.7 490L374.7 694L361.3 714L55.3 510Z" fill="#8b9cae"/><path d="M66 494L372 698L368 704L62 500Z" fill="#a3b5c6" opacity="0.75"/><path d="M55.3 510L361.3 714L365 708.5L59 504.5Z" fill="#74859a" opacity="0.85"/><ellipse cx="368" cy="704" rx="9" ry="12" fill="#93a5b6" transform="rotate(33.7 368 704)" stroke="#a3b5c6" stroke-width="1.5"/><path d="M50 492L70 490L80 505L62 512Z" fill="#8b9cae"/><path d="M348.3 673.5L378.3 693.5L361.7 718.5L331.7 698.5Z" fill="#8c9daf"/><path d="M345 678.5L375 698.5L370 706L340 686Z" fill="#a3b5c6" opacity="0.75"/><path d="M331.7 698.5L361.7 718.5L366.3 711.6L336.3 691.6Z" fill="#74859a" opacity="0.85"/><ellipse cx="369" cy="706" rx="11" ry="16" fill="#9aacbd" transform="rotate(34 369 706)"/></g>
</g>
<path d="M483 396H538.1V428.7H483Z M488.75 401V424.3H532.1V401Z" fill="#ff0000" fill-rule="evenodd"/>
<g class="lb">
<text transform="translate(986.0 142.95) scale(0.975 1)">10</text>
<text transform="translate(993.0 468.05) scale(0.975 1)">40</text>
<text transform="translate(835.7 441.85) scale(0.975 1)">170</text>
<text transform="translate(436.7 494.95) scale(0.975 1)">80</text>
<text transform="translate(509.3 419.25) scale(0.975 1)">60</text>
<text transform="translate(895.6 155.25) scale(0.975 1)">30</text>
<text transform="translate(893.9 233.05) scale(0.975 1)">20</text>
<text transform="translate(328.5 465.25) scale(0.975 1)">100</text>
<text transform="translate(223.2 523.55) scale(0.975 1)">260</text>
<text transform="translate(94.4 675.85) scale(0.975 1)">250</text>
<text transform="translate(241.4 774.15) scale(0.975 1)">200</text>
<text transform="translate(364.9 739.65) scale(0.975 1)">220</text>
<text transform="translate(493.2 712.15) scale(0.975 1)">190</text>
<text transform="translate(1103.0 363.85) scale(0.975 1)">120</text>
<text transform="translate(1285.0 454.25) scale(0.975 1)">50</text>
<text transform="translate(1281.9 544.45) scale(0.975 1)">45</text>
</g>
</svg>
</body>
</html>
